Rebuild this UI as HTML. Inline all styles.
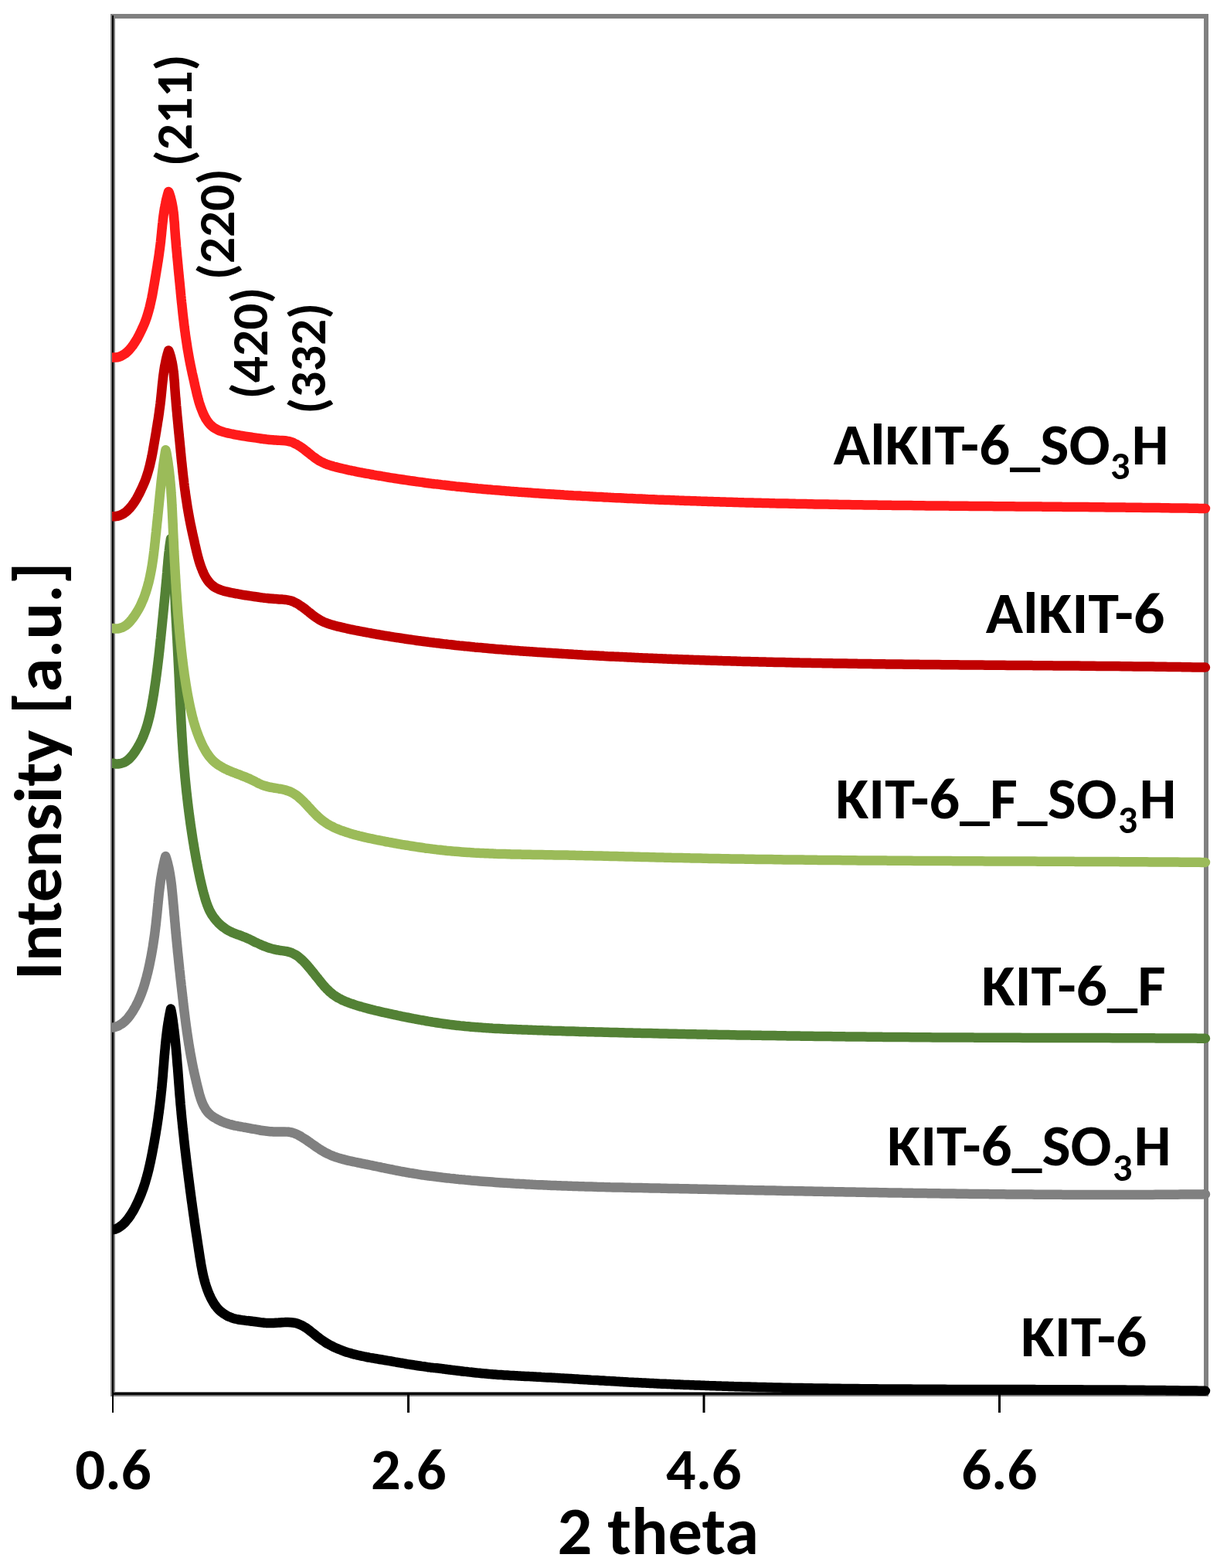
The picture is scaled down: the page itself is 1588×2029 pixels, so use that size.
<!DOCTYPE html>
<html><head><meta charset="utf-8"><title>XRD patterns</title>
<style>html,body{margin:0;padding:0;background:#fff;}svg{display:block;}</style></head>
<body>
<svg width="1588" height="2029" viewBox="0 0 1588 2029" font-family="Carlito, 'Liberation Sans', 'DejaVu Sans', sans-serif" font-weight="bold" fill="#000" style="font-size-adjust:cap-height 0.6484">
<rect width="1588" height="2029" fill="#fff"/>
<rect x="146" y="21" width="1415" height="1783" fill="none" stroke="#808080" stroke-width="6"/>
<rect x="145" y="20" width="2" height="1808" fill="#000"/>
<rect x="145" y="1802" width="1419" height="3" fill="#000"/>
<rect x="527" y="1802" width="3" height="26" fill="#000"/>
<rect x="909.5" y="1802" width="3" height="26" fill="#000"/>
<rect x="1292" y="1802" width="3" height="26" fill="#000"/>
<clipPath id="pc"><rect x="145" y="0" width="1443" height="2029"/></clipPath>
<g clip-path="url(#pc)" fill="none" stroke-width="12.5" stroke-linejoin="round" stroke-linecap="round">
<path d="M146.06,1591.17C146.7,1591.0 148.8,1590.6 150.0,1590.2C151.3,1589.7 152.5,1589.2 153.6,1588.5C154.7,1587.8 155.8,1587.1 156.9,1586.2C157.9,1585.4 158.9,1584.5 159.9,1583.6C160.9,1582.7 161.8,1581.7 162.7,1580.7C163.6,1579.7 164.4,1578.6 165.3,1577.6C166.1,1576.5 166.9,1575.4 167.7,1574.3C168.5,1573.2 169.2,1572.0 169.9,1570.9C170.7,1569.7 171.4,1568.5 172.1,1567.4C172.7,1566.2 173.4,1565.0 174.1,1563.8C174.7,1562.6 175.3,1561.4 175.9,1560.2C176.6,1559.0 177.2,1557.8 177.7,1556.5C178.3,1555.3 178.9,1554.1 179.4,1552.9C180.0,1551.6 180.5,1550.4 181.0,1549.1C181.6,1547.9 182.1,1546.6 182.6,1545.4C183.1,1544.1 183.5,1542.9 184.0,1541.6C184.5,1540.3 184.9,1539.1 185.4,1537.8C185.8,1536.5 186.2,1535.2 186.7,1534.0C187.1,1532.7 187.5,1531.4 187.9,1530.1C188.3,1528.8 188.7,1527.5 189.0,1526.2C189.4,1524.9 189.8,1523.6 190.1,1522.3C190.5,1521.0 190.8,1519.7 191.2,1518.4C191.5,1517.1 191.8,1515.8 192.2,1514.5C192.5,1513.1 192.8,1511.8 193.1,1510.5C193.4,1509.2 193.7,1507.9 194.0,1506.5C194.3,1505.2 194.6,1503.9 194.9,1502.6C195.1,1501.2 195.4,1499.9 195.7,1498.6C196.0,1497.3 196.2,1495.9 196.5,1494.6C196.8,1493.3 197.0,1491.9 197.3,1490.6C197.5,1489.3 197.8,1487.9 198.0,1486.6C198.3,1485.3 198.5,1483.9 198.8,1482.6C199.0,1481.3 199.3,1479.9 199.5,1478.6C199.8,1477.3 200.0,1475.9 200.2,1474.6C200.5,1473.3 200.7,1471.9 200.9,1470.6C201.1,1469.3 201.4,1467.9 201.6,1466.6C201.8,1465.3 202.0,1463.9 202.2,1462.6C202.4,1461.3 202.7,1459.9 202.9,1458.6C203.1,1457.3 203.3,1455.9 203.5,1454.6C203.7,1453.2 203.9,1451.9 204.1,1450.6C204.3,1449.2 204.5,1447.9 204.7,1446.6C204.8,1445.2 205.0,1443.9 205.2,1442.5C205.4,1441.2 205.6,1439.9 205.8,1438.5C205.9,1437.2 206.1,1435.8 206.3,1434.5C206.5,1433.2 206.6,1431.8 206.8,1430.5C207.0,1429.1 207.1,1427.8 207.3,1426.4C207.4,1425.1 207.6,1423.8 207.8,1422.4C207.9,1421.1 208.1,1419.7 208.2,1418.4C208.4,1417.0 208.5,1415.7 208.6,1414.3C208.8,1413.0 208.9,1411.7 209.1,1410.3C209.2,1409.0 209.3,1407.6 209.5,1406.3C209.6,1404.9 209.7,1403.6 209.8,1402.2C210.0,1400.9 210.1,1399.5 210.2,1398.2C210.3,1396.8 210.4,1395.5 210.6,1394.1C210.7,1392.8 210.8,1391.4 210.9,1390.1C211.0,1388.7 211.1,1387.4 211.2,1386.0C211.3,1384.7 211.4,1383.3 211.5,1382.0C211.7,1380.6 211.8,1379.3 211.9,1377.9C212.0,1376.6 212.1,1375.2 212.2,1373.9C212.3,1372.5 212.4,1371.2 212.5,1369.8C212.6,1368.5 212.7,1367.1 212.8,1365.8C213.0,1364.4 213.1,1363.1 213.2,1361.8C213.3,1360.4 213.4,1359.1 213.6,1357.7C213.7,1356.4 213.8,1355.0 213.9,1353.7C214.1,1352.3 214.2,1351.0 214.3,1349.6C214.5,1348.3 214.6,1346.9 214.7,1345.6C214.9,1344.2 215.0,1342.9 215.2,1341.6C215.3,1340.2 215.5,1338.9 215.7,1337.5C215.8,1336.2 216.0,1334.8 216.2,1333.5C216.4,1332.2 216.5,1330.8 216.7,1329.5C216.9,1328.1 217.1,1326.8 217.3,1325.5C217.5,1324.1 217.7,1322.8 218.0,1321.5C218.2,1320.1 218.4,1318.8 218.6,1317.5C218.9,1316.1 219.1,1314.8 219.4,1313.5C219.6,1312.1 219.9,1310.8 220.2,1309.5C220.4,1308.1 220.9,1306.2 221.0,1305.5C221.4,1306.1 221.7,1308.1 221.9,1309.4C222.1,1310.7 222.4,1312.1 222.6,1313.4C222.8,1314.7 223.0,1316.0 223.2,1317.3C223.4,1318.7 223.6,1320.0 223.8,1321.3C223.9,1322.6 224.1,1324.0 224.3,1325.3C224.5,1326.6 224.7,1327.9 224.8,1329.3C225.0,1330.6 225.2,1331.9 225.3,1333.3C225.5,1334.6 225.6,1335.9 225.8,1337.2C226.0,1338.6 226.1,1339.9 226.3,1341.2C226.4,1342.6 226.5,1343.9 226.7,1345.2C226.8,1346.6 227.0,1347.9 227.1,1349.2C227.2,1350.5 227.4,1351.9 227.5,1353.2C227.6,1354.5 227.7,1355.9 227.9,1357.2C228.0,1358.5 228.1,1359.9 228.2,1361.2C228.3,1362.5 228.4,1363.9 228.6,1365.2C228.7,1366.5 228.8,1367.9 228.9,1369.2C229.0,1370.5 229.1,1371.9 229.2,1373.2C229.3,1374.5 229.4,1375.9 229.5,1377.2C229.6,1378.5 229.8,1379.9 229.9,1381.2C230.0,1382.6 230.1,1383.9 230.2,1385.2C230.3,1386.6 230.4,1387.9 230.5,1389.2C230.6,1390.6 230.7,1391.9 230.8,1393.2C230.9,1394.6 231.0,1395.9 231.1,1397.2C231.2,1398.6 231.3,1399.9 231.4,1401.2C231.5,1402.6 231.6,1403.9 231.7,1405.3C231.8,1406.6 231.9,1407.9 232.0,1409.3C232.1,1410.6 232.2,1411.9 232.3,1413.3C232.4,1414.6 232.5,1415.9 232.6,1417.3C232.7,1418.6 232.8,1419.9 233.0,1421.3C233.1,1422.6 233.2,1423.9 233.3,1425.3C233.4,1426.6 233.5,1427.9 233.6,1429.3C233.8,1430.6 233.9,1431.9 234.0,1433.3C234.1,1434.6 234.2,1435.9 234.4,1437.3C234.5,1438.6 234.6,1439.9 234.7,1441.3C234.9,1442.6 235.0,1443.9 235.1,1445.3C235.2,1446.6 235.4,1447.9 235.5,1449.3C235.6,1450.6 235.8,1451.9 235.9,1453.3C236.0,1454.6 236.2,1455.9 236.3,1457.3C236.4,1458.6 236.6,1459.9 236.7,1461.2C236.9,1462.6 237.0,1463.9 237.1,1465.2C237.3,1466.6 237.4,1467.9 237.6,1469.2C237.7,1470.6 237.9,1471.9 238.0,1473.2C238.1,1474.6 238.3,1475.9 238.4,1477.2C238.6,1478.5 238.7,1479.9 238.9,1481.2C239.0,1482.5 239.2,1483.9 239.3,1485.2C239.5,1486.5 239.6,1487.9 239.8,1489.2C239.9,1490.5 240.1,1491.8 240.3,1493.2C240.4,1494.5 240.6,1495.8 240.7,1497.2C240.9,1498.5 241.0,1499.8 241.2,1501.2C241.4,1502.5 241.5,1503.8 241.7,1505.1C241.8,1506.5 242.0,1507.8 242.2,1509.1C242.3,1510.5 242.5,1511.8 242.7,1513.1C242.8,1514.4 243.0,1515.8 243.2,1517.1C243.3,1518.4 243.5,1519.8 243.7,1521.1C243.8,1522.4 244.0,1523.7 244.2,1525.1C244.3,1526.4 244.5,1527.7 244.7,1529.0C244.9,1530.4 245.0,1531.7 245.2,1533.0C245.4,1534.4 245.5,1535.7 245.7,1537.0C245.9,1538.3 246.1,1539.7 246.2,1541.0C246.4,1542.3 246.6,1543.6 246.8,1545.0C246.9,1546.3 247.1,1547.6 247.3,1549.0C247.5,1550.3 247.7,1551.6 247.8,1552.9C248.0,1554.3 248.2,1555.6 248.4,1556.9C248.6,1558.2 248.8,1559.6 248.9,1560.9C249.1,1562.2 249.3,1563.5 249.5,1564.9C249.7,1566.2 249.9,1567.5 250.0,1568.8C250.2,1570.2 250.4,1571.5 250.6,1572.8C250.8,1574.2 251.0,1575.5 251.2,1576.8C251.4,1578.1 251.6,1579.5 251.7,1580.8C251.9,1582.1 252.1,1583.4 252.3,1584.8C252.5,1586.1 252.7,1587.4 252.9,1588.7C253.1,1590.1 253.3,1591.4 253.5,1592.7C253.7,1594.0 253.9,1595.3 254.1,1596.7C254.3,1598.0 254.5,1599.3 254.7,1600.6C254.9,1602.0 255.1,1603.3 255.3,1604.6C255.5,1605.9 255.7,1607.3 255.9,1608.6C256.1,1609.9 256.3,1611.2 256.5,1612.6C256.7,1613.9 256.9,1615.2 257.1,1616.5C257.3,1617.9 257.5,1619.2 257.7,1620.5C257.9,1621.8 258.1,1623.1 258.3,1624.5C258.5,1625.8 258.7,1627.1 258.9,1628.4C259.2,1629.8 259.4,1631.1 259.6,1632.4C259.8,1633.7 260.0,1635.0 260.2,1636.4C260.5,1637.7 260.7,1639.0 261.0,1640.3C261.2,1641.6 261.4,1642.9 261.7,1644.3C262.0,1645.6 262.2,1646.9 262.5,1648.2C262.8,1649.5 263.1,1650.8 263.4,1652.1C263.7,1653.4 264.0,1654.7 264.4,1656.0C264.7,1657.3 265.1,1658.6 265.4,1659.8C265.8,1661.1 266.2,1662.4 266.6,1663.7C267.0,1664.9 267.4,1666.2 267.9,1667.5C268.3,1668.7 268.8,1670.0 269.3,1671.3C269.8,1672.5 270.3,1673.8 270.8,1675.0C271.4,1676.2 272.0,1677.5 272.5,1678.7C273.1,1679.9 273.7,1681.1 274.4,1682.3C275.0,1683.5 275.7,1684.7 276.4,1685.8C277.1,1687.0 277.8,1688.1 278.6,1689.2C279.4,1690.3 280.2,1691.3 281.0,1692.4C281.9,1693.4 282.8,1694.4 283.8,1695.3C284.7,1696.2 285.7,1697.1 286.8,1697.9C287.8,1698.8 288.9,1699.5 290.0,1700.3C291.1,1701.0 292.2,1701.7 293.4,1702.3C294.6,1703.0 295.8,1703.6 297.0,1704.1C298.2,1704.6 299.5,1705.1 300.7,1705.5C302.0,1706.0 303.3,1706.3 304.6,1706.6C305.9,1707.0 307.2,1707.2 308.5,1707.5C309.8,1707.7 311.2,1707.9 312.5,1708.1C313.8,1708.3 315.2,1708.5 316.5,1708.6C317.9,1708.8 319.2,1708.9 320.5,1709.1C321.9,1709.2 323.2,1709.4 324.6,1709.5C325.9,1709.7 327.3,1709.8 328.6,1710.0C329.9,1710.2 331.3,1710.4 332.6,1710.6C333.9,1710.7 335.2,1710.9 336.6,1711.1C337.9,1711.3 339.2,1711.4 340.5,1711.5C341.8,1711.7 343.2,1711.8 344.5,1711.9C345.8,1711.9 347.1,1712.0 348.5,1712.0C349.8,1712.0 351.1,1712.0 352.5,1712.0C353.8,1711.9 355.1,1711.9 356.5,1711.8C357.8,1711.7 359.2,1711.6 360.5,1711.6C361.9,1711.5 363.2,1711.4 364.6,1711.3C365.9,1711.2 367.3,1711.1 368.6,1711.1C370.0,1711.0 371.4,1711.0 372.7,1711.0C374.0,1711.0 375.4,1711.1 376.7,1711.2C378.0,1711.3 379.3,1711.4 380.6,1711.6C381.9,1711.9 383.2,1712.1 384.4,1712.5C385.7,1712.9 386.9,1713.4 388.1,1713.9C389.3,1714.4 390.5,1715.0 391.7,1715.6C392.9,1716.3 394.0,1717.0 395.1,1717.7C396.3,1718.4 397.4,1719.2 398.5,1720.0C399.6,1720.8 400.7,1721.6 401.7,1722.5C402.8,1723.3 403.8,1724.1 404.9,1725.0C406.0,1725.8 407.0,1726.7 408.0,1727.5C409.1,1728.4 410.1,1729.2 411.2,1730.1C412.3,1730.9 413.3,1731.7 414.4,1732.5C415.5,1733.3 416.6,1734.1 417.7,1734.8C418.8,1735.6 419.9,1736.3 421.0,1737.0C422.2,1737.7 423.3,1738.4 424.5,1739.1C425.6,1739.8 426.8,1740.4 428.0,1741.0C429.2,1741.6 430.4,1742.2 431.6,1742.8C432.8,1743.4 434.0,1744.0 435.2,1744.5C436.4,1745.0 437.7,1745.6 438.9,1746.1C440.1,1746.6 441.4,1747.1 442.6,1747.5C443.9,1748.0 445.2,1748.4 446.4,1748.9C447.7,1749.3 449.0,1749.7 450.2,1750.1C451.5,1750.5 452.8,1750.9 454.1,1751.2C455.4,1751.6 456.6,1752.0 457.9,1752.3C459.2,1752.6 460.5,1753.0 461.8,1753.3C463.1,1753.6 464.4,1753.9 465.7,1754.2C467.0,1754.5 468.4,1754.7 469.7,1755.0C471.0,1755.3 472.3,1755.6 473.6,1755.8C474.9,1756.1 476.2,1756.3 477.6,1756.6C478.9,1756.8 480.2,1757.0 481.5,1757.3C482.9,1757.5 484.2,1757.7 485.5,1758.0C486.8,1758.2 488.2,1758.4 489.5,1758.6C490.8,1758.9 492.1,1759.1 493.5,1759.3C494.8,1759.5 496.1,1759.7 497.4,1760.0C498.8,1760.2 500.1,1760.4 501.4,1760.6C502.7,1760.8 504.0,1761.1 505.4,1761.3C506.7,1761.5 508.0,1761.8 509.3,1762.0C510.6,1762.2 512.0,1762.4 513.3,1762.7C514.6,1762.9 515.9,1763.1 517.2,1763.4C518.5,1763.6 519.8,1763.8 521.2,1764.0C522.5,1764.3 523.8,1764.5 525.1,1764.7C526.4,1764.9 527.7,1765.2 529.1,1765.4C530.4,1765.6 531.7,1765.8 533.0,1766.0C534.3,1766.2 535.7,1766.4 537.0,1766.6C538.3,1766.8 539.6,1767.0 540.9,1767.2C542.3,1767.4 543.6,1767.6 544.9,1767.8C546.2,1768.0 547.6,1768.2 548.9,1768.3C550.2,1768.5 551.6,1768.7 552.9,1768.9C554.2,1769.0 555.5,1769.2 556.9,1769.4C558.2,1769.5 559.5,1769.7 560.9,1769.9C562.2,1770.0 563.5,1770.2 564.9,1770.3C566.2,1770.5 567.5,1770.7 568.9,1770.8C570.2,1771.0 571.5,1771.2 572.9,1771.3C574.2,1771.5 575.5,1771.6 576.8,1771.8C578.2,1772.0 579.5,1772.1 580.8,1772.3C582.2,1772.5 583.5,1772.6 584.8,1772.8C586.1,1772.9 587.5,1773.1 588.8,1773.3C590.1,1773.4 591.5,1773.6 592.8,1773.7C594.1,1773.9 595.4,1774.1 596.8,1774.2C598.1,1774.4 599.4,1774.5 600.8,1774.7C602.1,1774.8 603.4,1775.0 604.8,1775.1C606.1,1775.3 607.4,1775.4 608.7,1775.6C610.1,1775.7 611.4,1775.9 612.7,1776.0C614.1,1776.2 615.4,1776.3 616.7,1776.4C618.0,1776.6 619.4,1776.7 620.7,1776.8C622.0,1777.0 623.4,1777.1 624.7,1777.2C626.0,1777.3 627.4,1777.5 628.7,1777.6C630.0,1777.7 631.4,1777.8 632.7,1777.9C634.0,1778.0 635.4,1778.2 636.7,1778.3C638.0,1778.4 639.4,1778.5 640.7,1778.6C642.0,1778.7 643.4,1778.8 644.7,1778.9C646.0,1779.0 647.4,1779.0 648.7,1779.1C650.1,1779.2 651.4,1779.3 652.7,1779.4C654.1,1779.5 655.4,1779.6 656.7,1779.6C658.1,1779.7 659.4,1779.8 660.8,1779.9C662.1,1780.0 663.4,1780.0 664.8,1780.1C666.1,1780.2 667.4,1780.3 668.8,1780.3C670.1,1780.4 671.5,1780.5 672.8,1780.5C674.1,1780.6 675.5,1780.7 676.8,1780.7C678.2,1780.8 679.5,1780.9 680.8,1780.9C682.2,1781.0 683.5,1781.1 684.8,1781.1C686.2,1781.2 687.5,1781.3 688.9,1781.3C690.2,1781.4 691.5,1781.5 692.9,1781.5C694.2,1781.6 695.6,1781.7 696.9,1781.7C698.2,1781.8 699.6,1781.9 700.9,1782.0C702.3,1782.0 703.6,1782.1 704.9,1782.2C706.3,1782.2 707.6,1782.3 708.9,1782.4C710.3,1782.4 711.6,1782.5 713.0,1782.6C714.3,1782.7 715.6,1782.7 717.0,1782.8C718.3,1782.9 719.6,1783.0 721.0,1783.0C722.3,1783.1 723.7,1783.2 725.0,1783.3C726.3,1783.3 727.7,1783.4 729.0,1783.5C730.3,1783.6 731.7,1783.7 733.0,1783.7C734.4,1783.8 735.7,1783.9 737.0,1784.0C738.4,1784.1 739.7,1784.1 741.0,1784.2C742.4,1784.3 743.7,1784.4 745.0,1784.4C746.4,1784.5 747.7,1784.6 749.1,1784.7C750.4,1784.8 751.7,1784.9 753.1,1784.9C754.4,1785.0 755.7,1785.1 757.1,1785.2C758.4,1785.3 759.7,1785.3 761.1,1785.4C762.4,1785.5 763.7,1785.6 765.1,1785.7C766.4,1785.7 767.8,1785.8 769.1,1785.9C770.4,1786.0 771.8,1786.1 773.1,1786.1C774.4,1786.2 775.8,1786.3 777.1,1786.4C778.4,1786.5 779.8,1786.5 781.1,1786.6C782.4,1786.7 783.8,1786.8 785.1,1786.9C786.5,1786.9 787.8,1787.0 789.1,1787.1C790.5,1787.2 791.8,1787.3 793.1,1787.3C794.5,1787.4 795.8,1787.5 797.1,1787.6C798.5,1787.6 799.8,1787.7 801.1,1787.8C802.5,1787.9 803.8,1787.9 805.1,1788.0C806.5,1788.1 807.8,1788.2 809.2,1788.2C810.5,1788.3 811.8,1788.4 813.2,1788.5C814.5,1788.5 815.8,1788.6 817.2,1788.7C818.5,1788.8 819.8,1788.8 821.2,1788.9C822.5,1789.0 823.9,1789.0 825.2,1789.1C826.5,1789.2 827.9,1789.2 829.2,1789.3C830.5,1789.4 831.9,1789.4 833.2,1789.5C834.5,1789.6 835.9,1789.6 837.2,1789.7C838.5,1789.8 839.9,1789.8 841.2,1789.9C842.6,1790.0 843.9,1790.0 845.2,1790.1C846.6,1790.2 847.9,1790.2 849.2,1790.3C850.6,1790.4 851.9,1790.4 853.2,1790.5C854.6,1790.5 855.9,1790.6 857.3,1790.7C858.6,1790.7 859.9,1790.8 861.3,1790.8C862.6,1790.9 863.9,1791.0 865.3,1791.0C866.6,1791.1 868.0,1791.1 869.3,1791.2C870.6,1791.3 872.0,1791.3 873.3,1791.4C874.6,1791.4 876.0,1791.5 877.3,1791.5C878.6,1791.6 880.0,1791.6 881.3,1791.7C882.7,1791.8 884.0,1791.8 885.3,1791.9C886.7,1791.9 888.0,1792.0 889.3,1792.0C890.7,1792.1 892.0,1792.1 893.4,1792.2C894.7,1792.2 896.0,1792.3 897.4,1792.3C898.7,1792.4 900.0,1792.4 901.4,1792.5C902.7,1792.5 904.0,1792.6 905.4,1792.6C906.7,1792.7 908.1,1792.7 909.4,1792.8C910.7,1792.8 912.1,1792.9 913.4,1792.9C914.7,1793.0 916.1,1793.0 917.4,1793.1C918.8,1793.1 920.1,1793.2 921.4,1793.2C922.8,1793.2 924.1,1793.3 925.4,1793.3C926.8,1793.4 928.1,1793.4 929.5,1793.5C930.8,1793.5 932.1,1793.5 933.5,1793.6C934.8,1793.6 936.1,1793.7 937.5,1793.7C938.8,1793.8 940.2,1793.8 941.5,1793.8C942.8,1793.9 944.2,1793.9 945.5,1794.0C946.8,1794.0 948.2,1794.0 949.5,1794.1C950.9,1794.1 952.2,1794.2 953.5,1794.2C954.9,1794.2 956.2,1794.3 957.5,1794.3C958.9,1794.4 960.2,1794.4 961.6,1794.4C962.9,1794.5 964.2,1794.5 965.6,1794.5C966.9,1794.6 968.3,1794.6 969.6,1794.6C970.9,1794.7 972.3,1794.7 973.6,1794.7C974.9,1794.8 976.3,1794.8 977.6,1794.8C979.0,1794.9 980.3,1794.9 981.6,1794.9C983.0,1795.0 984.3,1795.0 985.6,1795.0C987.0,1795.1 988.3,1795.1 989.7,1795.1C991.0,1795.2 992.3,1795.2 993.7,1795.2C995.0,1795.3 996.4,1795.3 997.7,1795.3C999.0,1795.4 1000.4,1795.4 1001.7,1795.4C1003.0,1795.4 1004.4,1795.5 1005.7,1795.5C1007.1,1795.5 1008.4,1795.6 1009.7,1795.6C1011.1,1795.6 1012.4,1795.6 1013.7,1795.7C1015.1,1795.7 1016.4,1795.7 1017.8,1795.8C1019.1,1795.8 1020.4,1795.8 1021.8,1795.8C1023.1,1795.9 1024.5,1795.9 1025.8,1795.9C1027.1,1795.9 1028.5,1796.0 1029.8,1796.0C1031.1,1796.0 1032.5,1796.0 1033.8,1796.1C1035.2,1796.1 1036.5,1796.1 1037.8,1796.1C1039.2,1796.2 1040.5,1796.2 1041.9,1796.2C1043.2,1796.2 1044.5,1796.2 1045.9,1796.3C1047.2,1796.3 1048.6,1796.3 1049.9,1796.3C1051.2,1796.4 1052.6,1796.4 1053.9,1796.4C1055.2,1796.4 1056.6,1796.4 1057.9,1796.5C1059.3,1796.5 1060.6,1796.5 1061.9,1796.5C1063.3,1796.5 1064.6,1796.6 1066.0,1796.6C1067.3,1796.6 1068.6,1796.6 1070.0,1796.6C1071.3,1796.7 1072.6,1796.7 1074.0,1796.7C1075.3,1796.7 1076.7,1796.7 1078.0,1796.7C1079.3,1796.8 1080.7,1796.8 1082.0,1796.8C1083.4,1796.8 1084.7,1796.8 1086.0,1796.8C1087.4,1796.9 1088.7,1796.9 1090.1,1796.9C1091.4,1796.9 1092.7,1796.9 1094.1,1796.9C1095.4,1797.0 1096.7,1797.0 1098.1,1797.0C1099.4,1797.0 1100.8,1797.0 1102.1,1797.0C1103.4,1797.0 1104.8,1797.1 1106.1,1797.1C1107.5,1797.1 1108.8,1797.1 1110.1,1797.1C1111.5,1797.1 1112.8,1797.1 1114.2,1797.2C1115.5,1797.2 1116.8,1797.2 1118.2,1797.2C1119.5,1797.2 1120.9,1797.2 1122.2,1797.2C1123.5,1797.2 1124.9,1797.3 1126.2,1797.3C1127.5,1797.3 1128.9,1797.3 1130.2,1797.3C1131.6,1797.3 1132.9,1797.3 1134.2,1797.3C1135.6,1797.4 1136.9,1797.4 1138.3,1797.4C1139.6,1797.4 1140.9,1797.4 1142.3,1797.4C1143.6,1797.4 1145.0,1797.4 1146.3,1797.4C1147.6,1797.4 1149.0,1797.5 1150.3,1797.5C1151.7,1797.5 1153.0,1797.5 1154.3,1797.5C1155.7,1797.5 1157.0,1797.5 1158.3,1797.5C1159.7,1797.5 1161.0,1797.5 1162.4,1797.6C1163.7,1797.6 1165.0,1797.6 1166.4,1797.6C1167.7,1797.6 1169.1,1797.6 1170.4,1797.6C1171.7,1797.6 1173.1,1797.6 1174.4,1797.6C1175.8,1797.6 1177.1,1797.6 1178.4,1797.6C1179.8,1797.7 1181.1,1797.7 1182.5,1797.7C1183.8,1797.7 1185.1,1797.7 1186.5,1797.7C1187.8,1797.7 1189.2,1797.7 1190.5,1797.7C1191.8,1797.7 1193.2,1797.7 1194.5,1797.7C1195.8,1797.7 1197.2,1797.7 1198.5,1797.8C1199.9,1797.8 1201.2,1797.8 1202.5,1797.8C1203.9,1797.8 1205.2,1797.8 1206.6,1797.8C1207.9,1797.8 1209.2,1797.8 1210.6,1797.8C1211.9,1797.8 1213.3,1797.8 1214.6,1797.8C1215.9,1797.8 1217.3,1797.8 1218.6,1797.8C1220.0,1797.8 1221.3,1797.8 1222.6,1797.8C1224.0,1797.9 1225.3,1797.9 1226.7,1797.9C1228.0,1797.9 1229.3,1797.9 1230.7,1797.9C1232.0,1797.9 1233.3,1797.9 1234.7,1797.9C1236.0,1797.9 1237.4,1797.9 1238.7,1797.9C1240.0,1797.9 1241.4,1797.9 1242.7,1797.9C1244.1,1797.9 1245.4,1797.9 1246.7,1797.9C1248.1,1797.9 1249.4,1797.9 1250.8,1797.9C1252.1,1797.9 1253.4,1797.9 1254.8,1797.9C1256.1,1798.0 1257.5,1798.0 1258.8,1798.0C1260.1,1798.0 1261.5,1798.0 1262.8,1798.0C1264.2,1798.0 1265.5,1798.0 1266.8,1798.0C1268.2,1798.0 1269.5,1798.0 1270.8,1798.0C1272.2,1798.0 1273.5,1798.0 1274.9,1798.0C1276.2,1798.0 1277.5,1798.0 1278.9,1798.0C1280.2,1798.0 1281.6,1798.0 1282.9,1798.0C1284.2,1798.0 1285.6,1798.0 1286.9,1798.0C1288.3,1798.0 1289.6,1798.0 1290.9,1798.0C1292.3,1798.0 1293.6,1798.0 1295.0,1798.0C1296.3,1798.0 1297.6,1798.1 1299.0,1798.1C1300.3,1798.1 1301.7,1798.1 1303.0,1798.1C1304.3,1798.1 1305.7,1798.1 1307.0,1798.1C1308.3,1798.1 1309.7,1798.1 1311.0,1798.1C1312.4,1798.1 1313.7,1798.1 1315.0,1798.1C1316.4,1798.1 1317.7,1798.1 1319.1,1798.1C1320.4,1798.1 1321.7,1798.1 1323.1,1798.1C1324.4,1798.1 1325.8,1798.1 1327.1,1798.1C1328.4,1798.1 1329.8,1798.1 1331.1,1798.1C1332.5,1798.1 1333.8,1798.1 1335.1,1798.1C1336.5,1798.1 1337.8,1798.1 1339.1,1798.1C1340.5,1798.1 1341.8,1798.2 1343.2,1798.2C1344.5,1798.2 1345.8,1798.2 1347.2,1798.2C1348.5,1798.2 1349.9,1798.2 1351.2,1798.2C1352.5,1798.2 1353.9,1798.2 1355.2,1798.2C1356.6,1798.2 1357.9,1798.2 1359.2,1798.2C1360.6,1798.2 1361.9,1798.2 1363.3,1798.2C1364.6,1798.2 1365.9,1798.2 1367.3,1798.2C1368.6,1798.2 1369.9,1798.2 1371.3,1798.2C1372.6,1798.2 1374.0,1798.2 1375.3,1798.2C1376.6,1798.3 1378.0,1798.3 1379.3,1798.3C1380.7,1798.3 1382.0,1798.3 1383.3,1798.3C1384.7,1798.3 1386.0,1798.3 1387.4,1798.3C1388.7,1798.3 1390.0,1798.3 1391.4,1798.3C1392.7,1798.3 1394.0,1798.3 1395.4,1798.3C1396.7,1798.3 1398.1,1798.3 1399.4,1798.3C1400.7,1798.3 1402.1,1798.3 1403.4,1798.4C1404.8,1798.4 1406.1,1798.4 1407.4,1798.4C1408.8,1798.4 1410.1,1798.4 1411.4,1798.4C1412.8,1798.4 1414.1,1798.4 1415.5,1798.4C1416.8,1798.4 1418.1,1798.4 1419.5,1798.4C1420.8,1798.4 1422.2,1798.4 1423.5,1798.4C1424.8,1798.5 1426.2,1798.5 1427.5,1798.5C1428.9,1798.5 1430.2,1798.5 1431.5,1798.5C1432.9,1798.5 1434.2,1798.5 1435.5,1798.5C1436.9,1798.5 1438.2,1798.5 1439.6,1798.5C1440.9,1798.5 1442.2,1798.6 1443.6,1798.6C1444.9,1798.6 1446.3,1798.6 1447.6,1798.6C1448.9,1798.6 1450.3,1798.6 1451.6,1798.6C1452.9,1798.6 1454.3,1798.6 1455.6,1798.6C1457.0,1798.7 1458.3,1798.7 1459.6,1798.7C1461.0,1798.7 1462.3,1798.7 1463.7,1798.7C1465.0,1798.7 1466.3,1798.7 1467.7,1798.7C1469.0,1798.7 1470.3,1798.8 1471.7,1798.8C1473.0,1798.8 1474.4,1798.8 1475.7,1798.8C1477.0,1798.8 1478.4,1798.8 1479.7,1798.8C1481.0,1798.9 1482.4,1798.9 1483.7,1798.9C1485.1,1798.9 1486.4,1798.9 1487.7,1798.9C1489.1,1798.9 1490.4,1798.9 1491.8,1799.0C1493.1,1799.0 1494.4,1799.0 1495.8,1799.0C1497.1,1799.0 1498.4,1799.0 1499.8,1799.0C1501.1,1799.0 1502.5,1799.1 1503.8,1799.1C1505.1,1799.1 1506.5,1799.1 1507.8,1799.1C1509.1,1799.1 1510.5,1799.2 1511.8,1799.2C1513.2,1799.2 1514.5,1799.2 1515.8,1799.2C1517.2,1799.2 1518.5,1799.2 1519.8,1799.3C1521.2,1799.3 1522.5,1799.3 1523.9,1799.3C1525.2,1799.3 1526.5,1799.3 1527.9,1799.4C1529.2,1799.4 1530.5,1799.4 1531.9,1799.4C1533.2,1799.4 1534.6,1799.5 1535.9,1799.5C1537.2,1799.5 1538.6,1799.5 1539.9,1799.5C1541.2,1799.5 1542.6,1799.6 1543.9,1799.6C1545.3,1799.6 1546.6,1799.6 1547.9,1799.6C1549.3,1799.7 1550.6,1799.7 1551.9,1799.7C1553.3,1799.7 1554.6,1799.7 1556.0,1799.8C1557.3,1799.8 1559.3,1799.8 1560.0,1799.8" stroke="#000000"/>
<path d="M146.03,1329.58C146.7,1329.4 148.8,1329.0 150.1,1328.6C151.4,1328.2 152.6,1327.7 153.8,1327.1C155.0,1326.5 156.1,1325.8 157.2,1325.1C158.3,1324.3 159.4,1323.5 160.4,1322.6C161.4,1321.7 162.4,1320.8 163.3,1319.8C164.3,1318.8 165.2,1317.8 166.0,1316.8C166.9,1315.7 167.7,1314.6 168.5,1313.5C169.3,1312.4 170.1,1311.3 170.9,1310.1C171.6,1309.0 172.3,1307.8 173.0,1306.6C173.7,1305.4 174.4,1304.3 175.1,1303.1C175.7,1301.9 176.4,1300.7 177.0,1299.4C177.6,1298.2 178.2,1297.0 178.8,1295.8C179.3,1294.5 179.9,1293.3 180.4,1292.1C181.0,1290.8 181.5,1289.6 182.0,1288.3C182.5,1287.0 183.0,1285.8 183.5,1284.5C183.9,1283.2 184.4,1281.9 184.8,1280.6C185.3,1279.4 185.7,1278.1 186.1,1276.8C186.5,1275.5 186.9,1274.2 187.3,1272.9C187.7,1271.6 188.1,1270.3 188.4,1268.9C188.8,1267.6 189.1,1266.3 189.5,1265.0C189.8,1263.7 190.2,1262.4 190.5,1261.0C190.8,1259.7 191.2,1258.4 191.5,1257.1C191.8,1255.7 192.1,1254.4 192.4,1253.1C192.7,1251.8 193.0,1250.4 193.3,1249.1C193.6,1247.8 193.8,1246.4 194.1,1245.1C194.4,1243.8 194.6,1242.4 194.9,1241.1C195.2,1239.8 195.4,1238.4 195.7,1237.1C195.9,1235.8 196.2,1234.4 196.4,1233.1C196.6,1231.8 196.9,1230.4 197.1,1229.1C197.3,1227.7 197.6,1226.4 197.8,1225.1C198.0,1223.7 198.2,1222.4 198.4,1221.0C198.6,1219.7 198.8,1218.3 199.0,1217.0C199.2,1215.7 199.4,1214.3 199.6,1213.0C199.8,1211.6 200.0,1210.3 200.2,1208.9C200.3,1207.6 200.5,1206.2 200.7,1204.9C200.8,1203.5 201.0,1202.2 201.2,1200.8C201.3,1199.5 201.5,1198.1 201.7,1196.8C201.8,1195.4 202.0,1194.1 202.1,1192.7C202.3,1191.4 202.4,1190.0 202.5,1188.6C202.7,1187.3 202.8,1185.9 203.0,1184.6C203.1,1183.2 203.2,1181.9 203.4,1180.5C203.5,1179.2 203.6,1177.8 203.8,1176.5C203.9,1175.1 204.0,1173.7 204.2,1172.4C204.3,1171.0 204.4,1169.7 204.6,1168.3C204.7,1167.0 204.8,1165.6 205.0,1164.3C205.1,1162.9 205.2,1161.5 205.4,1160.2C205.5,1158.8 205.7,1157.5 205.8,1156.1C206.0,1154.8 206.1,1153.4 206.3,1152.1C206.4,1150.7 206.6,1149.4 206.8,1148.0C206.9,1146.7 207.1,1145.3 207.3,1144.0C207.5,1142.6 207.7,1141.3 207.8,1139.9C208.0,1138.6 208.2,1137.3 208.4,1135.9C208.7,1134.6 208.9,1133.2 209.1,1131.9C209.3,1130.5 209.6,1129.2 209.8,1127.9C210.0,1126.5 210.3,1125.2 210.6,1123.9C210.8,1122.5 211.1,1121.2 211.4,1119.9C211.7,1118.5 212.0,1117.2 212.3,1115.9C212.6,1114.6 212.9,1113.2 213.2,1111.9C213.6,1110.6 214.1,1108.6 214.3,1108.0C214.5,1108.6 215.2,1110.6 215.6,1111.9C215.9,1113.1 216.3,1114.4 216.6,1115.7C217.0,1117.0 217.3,1118.3 217.6,1119.6C217.9,1120.9 218.2,1122.2 218.5,1123.5C218.8,1124.8 219.0,1126.2 219.3,1127.5C219.5,1128.8 219.8,1130.1 220.0,1131.4C220.2,1132.7 220.4,1134.0 220.6,1135.4C220.8,1136.7 221.0,1138.0 221.2,1139.3C221.4,1140.7 221.5,1142.0 221.7,1143.3C221.9,1144.6 222.0,1146.0 222.2,1147.3C222.3,1148.6 222.4,1150.0 222.6,1151.3C222.7,1152.6 222.8,1153.9 223.0,1155.3C223.1,1156.6 223.2,1157.9 223.4,1159.3C223.5,1160.6 223.6,1161.9 223.7,1163.3C223.9,1164.6 224.0,1165.9 224.1,1167.3C224.2,1168.6 224.3,1169.9 224.5,1171.3C224.6,1172.6 224.7,1173.9 224.8,1175.3C224.9,1176.6 225.1,1177.9 225.2,1179.3C225.3,1180.6 225.4,1181.9 225.5,1183.3C225.6,1184.6 225.8,1185.9 225.9,1187.3C226.0,1188.6 226.1,1189.9 226.2,1191.3C226.3,1192.6 226.5,1193.9 226.6,1195.3C226.7,1196.6 226.8,1197.9 226.9,1199.3C227.0,1200.6 227.2,1201.9 227.3,1203.3C227.4,1204.6 227.5,1205.9 227.6,1207.2C227.8,1208.6 227.9,1209.9 228.0,1211.2C228.1,1212.6 228.3,1213.9 228.4,1215.2C228.5,1216.6 228.6,1217.9 228.8,1219.2C228.9,1220.6 229.0,1221.9 229.2,1223.2C229.3,1224.6 229.4,1225.9 229.6,1227.2C229.7,1228.5 229.8,1229.9 229.9,1231.2C230.1,1232.5 230.2,1233.9 230.4,1235.2C230.5,1236.5 230.6,1237.9 230.8,1239.2C230.9,1240.5 231.0,1241.8 231.2,1243.2C231.3,1244.5 231.4,1245.8 231.6,1247.2C231.7,1248.5 231.9,1249.8 232.0,1251.2C232.1,1252.5 232.3,1253.8 232.4,1255.1C232.6,1256.5 232.7,1257.8 232.9,1259.1C233.0,1260.5 233.1,1261.8 233.3,1263.1C233.4,1264.4 233.6,1265.8 233.7,1267.1C233.9,1268.4 234.0,1269.8 234.2,1271.1C234.3,1272.4 234.5,1273.8 234.6,1275.1C234.8,1276.4 234.9,1277.7 235.1,1279.1C235.2,1280.4 235.4,1281.7 235.5,1283.1C235.7,1284.4 235.8,1285.7 236.0,1287.0C236.1,1288.4 236.3,1289.7 236.4,1291.0C236.6,1292.4 236.7,1293.7 236.9,1295.0C237.0,1296.4 237.2,1297.7 237.3,1299.0C237.5,1300.3 237.6,1301.7 237.8,1303.0C238.0,1304.3 238.1,1305.7 238.3,1307.0C238.4,1308.3 238.6,1309.7 238.8,1311.0C238.9,1312.3 239.1,1313.6 239.3,1315.0C239.4,1316.3 239.6,1317.6 239.8,1318.9C239.9,1320.3 240.1,1321.6 240.3,1322.9C240.5,1324.3 240.6,1325.6 240.8,1326.9C241.0,1328.2 241.2,1329.6 241.4,1330.9C241.6,1332.2 241.7,1333.5 241.9,1334.9C242.1,1336.2 242.3,1337.5 242.5,1338.8C242.7,1340.2 242.9,1341.5 243.1,1342.8C243.3,1344.1 243.5,1345.4 243.7,1346.8C243.9,1348.1 244.1,1349.4 244.3,1350.7C244.5,1352.0 244.8,1353.4 245.0,1354.7C245.2,1356.0 245.4,1357.3 245.6,1358.6C245.9,1360.0 246.1,1361.3 246.3,1362.6C246.6,1363.9 246.8,1365.2 247.0,1366.5C247.3,1367.8 247.5,1369.2 247.8,1370.5C248.0,1371.8 248.3,1373.1 248.5,1374.4C248.8,1375.7 249.0,1377.0 249.3,1378.3C249.6,1379.7 249.8,1381.0 250.1,1382.3C250.4,1383.6 250.7,1384.9 250.9,1386.2C251.2,1387.5 251.5,1388.8 251.8,1390.1C252.1,1391.4 252.4,1392.7 252.7,1394.0C253.0,1395.3 253.3,1396.6 253.6,1397.9C253.9,1399.2 254.2,1400.5 254.5,1401.8C254.8,1403.2 255.1,1404.5 255.5,1405.8C255.8,1407.1 256.1,1408.4 256.4,1409.7C256.8,1411.0 257.1,1412.3 257.4,1413.6C257.8,1414.9 258.1,1416.2 258.5,1417.5C258.9,1418.8 259.3,1420.0 259.7,1421.3C260.1,1422.6 260.6,1423.8 261.0,1425.1C261.5,1426.3 262.0,1427.6 262.6,1428.8C263.1,1430.0 263.7,1431.2 264.4,1432.3C265.0,1433.5 265.7,1434.7 266.4,1435.8C267.2,1436.9 268.0,1438.0 268.8,1439.0C269.7,1440.0 270.6,1441.0 271.6,1441.9C272.6,1442.8 273.6,1443.7 274.7,1444.4C275.8,1445.2 276.9,1445.9 278.1,1446.6C279.2,1447.3 280.4,1447.9 281.6,1448.6C282.8,1449.2 284.0,1449.8 285.2,1450.4C286.4,1451.0 287.6,1451.5 288.9,1452.0C290.1,1452.5 291.3,1453.0 292.6,1453.4C293.9,1453.9 295.1,1454.3 296.4,1454.6C297.7,1455.0 299.0,1455.3 300.3,1455.7C301.6,1456.0 302.9,1456.3 304.2,1456.6C305.5,1456.8 306.8,1457.1 308.1,1457.3C309.5,1457.6 310.8,1457.8 312.1,1458.1C313.4,1458.3 314.8,1458.5 316.1,1458.8C317.4,1459.0 318.7,1459.2 320.0,1459.5C321.4,1459.7 322.7,1459.9 324.0,1460.2C325.3,1460.4 326.6,1460.7 327.9,1460.9C329.2,1461.1 330.5,1461.4 331.9,1461.6C333.2,1461.9 334.5,1462.1 335.8,1462.3C337.1,1462.6 338.4,1462.8 339.7,1463.0C341.0,1463.2 342.4,1463.4 343.7,1463.5C345.0,1463.7 346.3,1463.9 347.6,1464.0C349.0,1464.1 350.3,1464.2 351.7,1464.3C353.0,1464.4 354.3,1464.5 355.7,1464.5C357.1,1464.5 358.4,1464.5 359.8,1464.5C361.2,1464.5 362.5,1464.5 363.9,1464.4C365.3,1464.4 366.7,1464.4 368.0,1464.4C369.4,1464.4 370.7,1464.4 372.1,1464.6C373.4,1464.7 374.7,1464.9 376.0,1465.1C377.3,1465.4 378.5,1465.7 379.8,1466.1C381.0,1466.5 382.2,1467.0 383.4,1467.6C384.6,1468.1 385.8,1468.7 387.0,1469.3C388.1,1469.9 389.3,1470.6 390.4,1471.3C391.6,1472.0 392.7,1472.7 393.8,1473.4C395.0,1474.1 396.1,1474.9 397.2,1475.6C398.3,1476.4 399.4,1477.2 400.5,1477.9C401.6,1478.7 402.7,1479.5 403.8,1480.3C404.9,1481.1 406.1,1481.8 407.2,1482.6C408.3,1483.4 409.4,1484.2 410.5,1484.9C411.6,1485.7 412.7,1486.4 413.9,1487.2C415.0,1487.9 416.1,1488.6 417.3,1489.3C418.4,1490.0 419.6,1490.6 420.7,1491.3C421.9,1491.9 423.1,1492.5 424.3,1493.1C425.5,1493.6 426.7,1494.2 427.9,1494.7C429.1,1495.2 430.3,1495.7 431.6,1496.2C432.8,1496.7 434.1,1497.1 435.3,1497.5C436.6,1498.0 437.9,1498.4 439.1,1498.7C440.4,1499.1 441.7,1499.5 443.0,1499.9C444.3,1500.2 445.6,1500.5 446.9,1500.9C448.2,1501.2 449.5,1501.5 450.8,1501.8C452.1,1502.1 453.4,1502.4 454.7,1502.7C456.0,1503.0 457.3,1503.2 458.7,1503.5C460.0,1503.8 461.3,1504.1 462.6,1504.3C464.0,1504.6 465.3,1504.8 466.6,1505.1C467.9,1505.4 469.2,1505.6 470.6,1505.9C471.9,1506.2 473.2,1506.4 474.5,1506.7C475.8,1507.0 477.2,1507.2 478.5,1507.5C479.8,1507.8 481.1,1508.0 482.4,1508.3C483.7,1508.6 485.0,1508.9 486.3,1509.1C487.7,1509.4 489.0,1509.7 490.3,1510.0C491.6,1510.2 492.9,1510.5 494.2,1510.8C495.5,1511.1 496.8,1511.3 498.1,1511.6C499.4,1511.9 500.7,1512.2 502.0,1512.4C503.3,1512.7 504.7,1513.0 506.0,1513.2C507.3,1513.5 508.6,1513.8 509.9,1514.0C511.2,1514.3 512.5,1514.5 513.8,1514.8C515.1,1515.0 516.4,1515.3 517.7,1515.5C519.0,1515.8 520.4,1516.0 521.7,1516.3C523.0,1516.5 524.3,1516.7 525.6,1517.0C526.9,1517.2 528.2,1517.4 529.6,1517.7C530.9,1517.9 532.2,1518.1 533.5,1518.3C534.8,1518.5 536.1,1518.7 537.5,1518.9C538.8,1519.2 540.1,1519.4 541.4,1519.6C542.7,1519.8 544.1,1520.0 545.4,1520.2C546.7,1520.3 548.0,1520.5 549.4,1520.7C550.7,1520.9 552.0,1521.1 553.3,1521.3C554.7,1521.5 556.0,1521.6 557.3,1521.8C558.6,1522.0 560.0,1522.2 561.3,1522.3C562.6,1522.5 563.9,1522.7 565.3,1522.8C566.6,1523.0 567.9,1523.1 569.3,1523.3C570.6,1523.5 571.9,1523.6 573.2,1523.8C574.6,1523.9 575.9,1524.1 577.2,1524.2C578.6,1524.4 579.9,1524.5 581.2,1524.6C582.6,1524.8 583.9,1524.9 585.2,1525.1C586.6,1525.2 587.9,1525.3 589.2,1525.5C590.6,1525.6 591.9,1525.7 593.2,1525.9C594.6,1526.0 595.9,1526.1 597.2,1526.3C598.6,1526.4 599.9,1526.5 601.2,1526.6C602.6,1526.8 603.9,1526.9 605.2,1527.0C606.6,1527.1 607.9,1527.2 609.2,1527.4C610.6,1527.5 611.9,1527.6 613.2,1527.7C614.6,1527.8 615.9,1527.9 617.2,1528.0C618.6,1528.2 619.9,1528.3 621.2,1528.4C622.6,1528.5 623.9,1528.6 625.2,1528.7C626.6,1528.8 627.9,1528.9 629.2,1529.0C630.6,1529.1 631.9,1529.2 633.2,1529.3C634.6,1529.4 635.9,1529.5 637.2,1529.6C638.6,1529.7 639.9,1529.8 641.2,1529.9C642.6,1530.0 643.9,1530.1 645.2,1530.2C646.6,1530.3 647.9,1530.4 649.2,1530.4C650.6,1530.5 651.9,1530.6 653.2,1530.7C654.6,1530.8 655.9,1530.9 657.3,1531.0C658.6,1531.1 659.9,1531.1 661.3,1531.2C662.6,1531.3 663.9,1531.4 665.3,1531.5C666.6,1531.5 667.9,1531.6 669.3,1531.7C670.6,1531.8 671.9,1531.8 673.3,1531.9C674.6,1532.0 675.9,1532.1 677.3,1532.1C678.6,1532.2 679.9,1532.3 681.3,1532.4C682.6,1532.4 684.0,1532.5 685.3,1532.6C686.6,1532.6 688.0,1532.7 689.3,1532.8C690.6,1532.8 692.0,1532.9 693.3,1533.0C694.6,1533.0 696.0,1533.1 697.3,1533.2C698.6,1533.2 700.0,1533.3 701.3,1533.3C702.7,1533.4 704.0,1533.5 705.3,1533.5C706.7,1533.6 708.0,1533.6 709.3,1533.7C710.7,1533.8 712.0,1533.8 713.3,1533.9C714.7,1533.9 716.0,1534.0 717.4,1534.0C718.7,1534.1 720.0,1534.1 721.4,1534.2C722.7,1534.2 724.0,1534.3 725.4,1534.3C726.7,1534.4 728.0,1534.4 729.4,1534.5C730.7,1534.5 732.0,1534.6 733.4,1534.6C734.7,1534.7 736.1,1534.7 737.4,1534.8C738.7,1534.8 740.1,1534.9 741.4,1534.9C742.7,1534.9 744.1,1535.0 745.4,1535.0C746.7,1535.1 748.1,1535.1 749.4,1535.2C750.8,1535.2 752.1,1535.2 753.4,1535.3C754.8,1535.3 756.1,1535.4 757.4,1535.4C758.8,1535.4 760.1,1535.5 761.5,1535.5C762.8,1535.6 764.1,1535.6 765.5,1535.6C766.8,1535.7 768.1,1535.7 769.5,1535.7C770.8,1535.8 772.1,1535.8 773.5,1535.9C774.8,1535.9 776.2,1535.9 777.5,1536.0C778.8,1536.0 780.2,1536.0 781.5,1536.1C782.8,1536.1 784.2,1536.1 785.5,1536.2C786.9,1536.2 788.2,1536.2 789.5,1536.3C790.9,1536.3 792.2,1536.3 793.5,1536.4C794.9,1536.4 796.2,1536.4 797.5,1536.4C798.9,1536.5 800.2,1536.5 801.6,1536.5C802.9,1536.6 804.2,1536.6 805.6,1536.6C806.9,1536.7 808.2,1536.7 809.6,1536.7C810.9,1536.7 812.3,1536.8 813.6,1536.8C814.9,1536.8 816.3,1536.9 817.6,1536.9C818.9,1536.9 820.3,1536.9 821.6,1537.0C823.0,1537.0 824.3,1537.0 825.6,1537.0C827.0,1537.1 828.3,1537.1 829.6,1537.1C831.0,1537.2 832.3,1537.2 833.7,1537.2C835.0,1537.2 836.3,1537.3 837.7,1537.3C839.0,1537.3 840.3,1537.3 841.7,1537.4C843.0,1537.4 844.4,1537.4 845.7,1537.5C847.0,1537.5 848.4,1537.5 849.7,1537.5C851.0,1537.6 852.4,1537.6 853.7,1537.6C855.1,1537.6 856.4,1537.7 857.7,1537.7C859.1,1537.7 860.4,1537.8 861.7,1537.8C863.1,1537.8 864.4,1537.8 865.8,1537.9C867.1,1537.9 868.4,1537.9 869.8,1537.9C871.1,1538.0 872.4,1538.0 873.8,1538.0C875.1,1538.1 876.5,1538.1 877.8,1538.1C879.1,1538.1 880.5,1538.2 881.8,1538.2C883.1,1538.2 884.5,1538.2 885.8,1538.3C887.2,1538.3 888.5,1538.3 889.8,1538.3C891.2,1538.4 892.5,1538.4 893.8,1538.4C895.2,1538.5 896.5,1538.5 897.9,1538.5C899.2,1538.5 900.5,1538.6 901.9,1538.6C903.2,1538.6 904.5,1538.7 905.9,1538.7C907.2,1538.7 908.6,1538.7 909.9,1538.8C911.2,1538.8 912.6,1538.8 913.9,1538.8C915.2,1538.9 916.6,1538.9 917.9,1538.9C919.3,1539.0 920.6,1539.0 921.9,1539.0C923.3,1539.0 924.6,1539.1 925.9,1539.1C927.3,1539.1 928.6,1539.1 930.0,1539.2C931.3,1539.2 932.6,1539.2 934.0,1539.3C935.3,1539.3 936.6,1539.3 938.0,1539.3C939.3,1539.4 940.7,1539.4 942.0,1539.4C943.3,1539.4 944.7,1539.5 946.0,1539.5C947.3,1539.5 948.7,1539.6 950.0,1539.6C951.4,1539.6 952.7,1539.6 954.0,1539.7C955.4,1539.7 956.7,1539.7 958.0,1539.7C959.4,1539.8 960.7,1539.8 962.1,1539.8C963.4,1539.9 964.7,1539.9 966.1,1539.9C967.4,1539.9 968.7,1540.0 970.1,1540.0C971.4,1540.0 972.8,1540.0 974.1,1540.1C975.4,1540.1 976.8,1540.1 978.1,1540.2C979.4,1540.2 980.8,1540.2 982.1,1540.2C983.5,1540.3 984.8,1540.3 986.1,1540.3C987.5,1540.3 988.8,1540.4 990.1,1540.4C991.5,1540.4 992.8,1540.4 994.2,1540.5C995.5,1540.5 996.8,1540.5 998.2,1540.6C999.5,1540.6 1000.8,1540.6 1002.2,1540.6C1003.5,1540.7 1004.9,1540.7 1006.2,1540.7C1007.5,1540.7 1008.9,1540.8 1010.2,1540.8C1011.5,1540.8 1012.9,1540.8 1014.2,1540.9C1015.6,1540.9 1016.9,1540.9 1018.2,1541.0C1019.6,1541.0 1020.9,1541.0 1022.2,1541.0C1023.6,1541.1 1024.9,1541.1 1026.3,1541.1C1027.6,1541.1 1028.9,1541.2 1030.3,1541.2C1031.6,1541.2 1032.9,1541.2 1034.3,1541.3C1035.6,1541.3 1037.0,1541.3 1038.3,1541.3C1039.6,1541.4 1041.0,1541.4 1042.3,1541.4C1043.7,1541.4 1045.0,1541.5 1046.3,1541.5C1047.7,1541.5 1049.0,1541.6 1050.3,1541.6C1051.7,1541.6 1053.0,1541.6 1054.4,1541.7C1055.7,1541.7 1057.0,1541.7 1058.4,1541.7C1059.7,1541.8 1061.0,1541.8 1062.4,1541.8C1063.7,1541.8 1065.1,1541.9 1066.4,1541.9C1067.7,1541.9 1069.1,1541.9 1070.4,1542.0C1071.7,1542.0 1073.1,1542.0 1074.4,1542.0C1075.8,1542.1 1077.1,1542.1 1078.4,1542.1C1079.8,1542.1 1081.1,1542.2 1082.4,1542.2C1083.8,1542.2 1085.1,1542.2 1086.5,1542.3C1087.8,1542.3 1089.1,1542.3 1090.5,1542.3C1091.8,1542.4 1093.1,1542.4 1094.5,1542.4C1095.8,1542.4 1097.2,1542.4 1098.5,1542.5C1099.8,1542.5 1101.2,1542.5 1102.5,1542.5C1103.9,1542.6 1105.2,1542.6 1106.5,1542.6C1107.9,1542.6 1109.2,1542.7 1110.5,1542.7C1111.9,1542.7 1113.2,1542.7 1114.6,1542.8C1115.9,1542.8 1117.2,1542.8 1118.6,1542.8C1119.9,1542.9 1121.2,1542.9 1122.6,1542.9C1123.9,1542.9 1125.3,1542.9 1126.6,1543.0C1127.9,1543.0 1129.3,1543.0 1130.6,1543.0C1131.9,1543.1 1133.3,1543.1 1134.6,1543.1C1136.0,1543.1 1137.3,1543.1 1138.6,1543.2C1140.0,1543.2 1141.3,1543.2 1142.6,1543.2C1144.0,1543.3 1145.3,1543.3 1146.7,1543.3C1148.0,1543.3 1149.3,1543.3 1150.7,1543.4C1152.0,1543.4 1153.3,1543.4 1154.7,1543.4C1156.0,1543.5 1157.4,1543.5 1158.7,1543.5C1160.0,1543.5 1161.4,1543.5 1162.7,1543.6C1164.1,1543.6 1165.4,1543.6 1166.7,1543.6C1168.1,1543.6 1169.4,1543.7 1170.7,1543.7C1172.1,1543.7 1173.4,1543.7 1174.8,1543.8C1176.1,1543.8 1177.4,1543.8 1178.8,1543.8C1180.1,1543.8 1181.4,1543.9 1182.8,1543.9C1184.1,1543.9 1185.5,1543.9 1186.8,1543.9C1188.1,1544.0 1189.5,1544.0 1190.8,1544.0C1192.1,1544.0 1193.5,1544.0 1194.8,1544.1C1196.2,1544.1 1197.5,1544.1 1198.8,1544.1C1200.2,1544.1 1201.5,1544.2 1202.8,1544.2C1204.2,1544.2 1205.5,1544.2 1206.9,1544.2C1208.2,1544.2 1209.5,1544.3 1210.9,1544.3C1212.2,1544.3 1213.5,1544.3 1214.9,1544.3C1216.2,1544.4 1217.6,1544.4 1218.9,1544.4C1220.2,1544.4 1221.6,1544.4 1222.9,1544.4C1224.3,1544.5 1225.6,1544.5 1226.9,1544.5C1228.3,1544.5 1229.6,1544.5 1230.9,1544.6C1232.3,1544.6 1233.6,1544.6 1235.0,1544.6C1236.3,1544.6 1237.6,1544.6 1239.0,1544.7C1240.3,1544.7 1241.6,1544.7 1243.0,1544.7C1244.3,1544.7 1245.7,1544.7 1247.0,1544.8C1248.3,1544.8 1249.7,1544.8 1251.0,1544.8C1252.3,1544.8 1253.7,1544.8 1255.0,1544.9C1256.4,1544.9 1257.7,1544.9 1259.0,1544.9C1260.4,1544.9 1261.7,1544.9 1263.0,1544.9C1264.4,1545.0 1265.7,1545.0 1267.1,1545.0C1268.4,1545.0 1269.7,1545.0 1271.1,1545.0C1272.4,1545.1 1273.7,1545.1 1275.1,1545.1C1276.4,1545.1 1277.8,1545.1 1279.1,1545.1C1280.4,1545.1 1281.8,1545.2 1283.1,1545.2C1284.5,1545.2 1285.8,1545.2 1287.1,1545.2C1288.5,1545.2 1289.8,1545.2 1291.1,1545.2C1292.5,1545.3 1293.8,1545.3 1295.2,1545.3C1296.5,1545.3 1297.8,1545.3 1299.2,1545.3C1300.5,1545.3 1301.8,1545.3 1303.2,1545.4C1304.5,1545.4 1305.9,1545.4 1307.2,1545.4C1308.5,1545.4 1309.9,1545.4 1311.2,1545.4C1312.5,1545.4 1313.9,1545.5 1315.2,1545.5C1316.6,1545.5 1317.9,1545.5 1319.2,1545.5C1320.6,1545.5 1321.9,1545.5 1323.2,1545.5C1324.6,1545.5 1325.9,1545.6 1327.3,1545.6C1328.6,1545.6 1329.9,1545.6 1331.3,1545.6C1332.6,1545.6 1333.9,1545.6 1335.3,1545.6C1336.6,1545.6 1338.0,1545.6 1339.3,1545.7C1340.6,1545.7 1342.0,1545.7 1343.3,1545.7C1344.6,1545.7 1346.0,1545.7 1347.3,1545.7C1348.7,1545.7 1350.0,1545.7 1351.3,1545.7C1352.7,1545.7 1354.0,1545.7 1355.3,1545.8C1356.7,1545.8 1358.0,1545.8 1359.4,1545.8C1360.7,1545.8 1362.0,1545.8 1363.4,1545.8C1364.7,1545.8 1366.1,1545.8 1367.4,1545.8C1368.7,1545.8 1370.1,1545.8 1371.4,1545.8C1372.7,1545.8 1374.1,1545.9 1375.4,1545.9C1376.8,1545.9 1378.1,1545.9 1379.4,1545.9C1380.8,1545.9 1382.1,1545.9 1383.4,1545.9C1384.8,1545.9 1386.1,1545.9 1387.5,1545.9C1388.8,1545.9 1390.1,1545.9 1391.5,1545.9C1392.8,1545.9 1394.1,1545.9 1395.5,1545.9C1396.8,1545.9 1398.2,1545.9 1399.5,1545.9C1400.8,1545.9 1402.2,1546.0 1403.5,1546.0C1404.8,1546.0 1406.2,1546.0 1407.5,1546.0C1408.9,1546.0 1410.2,1546.0 1411.5,1546.0C1412.9,1546.0 1414.2,1546.0 1415.5,1546.0C1416.9,1546.0 1418.2,1546.0 1419.6,1546.0C1420.9,1546.0 1422.2,1546.0 1423.6,1546.0C1424.9,1546.0 1426.2,1546.0 1427.6,1546.0C1428.9,1546.0 1430.3,1546.0 1431.6,1546.0C1432.9,1546.0 1434.3,1546.0 1435.6,1546.0C1436.9,1546.0 1438.3,1546.0 1439.6,1546.0C1441.0,1546.0 1442.3,1546.0 1443.6,1546.0C1445.0,1546.0 1446.3,1546.0 1447.6,1546.0C1449.0,1546.0 1450.3,1546.0 1451.7,1546.0C1453.0,1546.0 1454.3,1546.0 1455.7,1546.0C1457.0,1546.0 1458.3,1546.0 1459.7,1546.0C1461.0,1546.0 1462.4,1546.0 1463.7,1546.0C1465.0,1546.0 1466.4,1546.0 1467.7,1546.0C1469.0,1546.0 1470.4,1545.9 1471.7,1545.9C1473.1,1545.9 1474.4,1545.9 1475.7,1545.9C1477.1,1545.9 1478.4,1545.9 1479.7,1545.9C1481.1,1545.9 1482.4,1545.9 1483.8,1545.9C1485.1,1545.9 1486.4,1545.9 1487.8,1545.9C1489.1,1545.9 1490.4,1545.9 1491.8,1545.9C1493.1,1545.9 1494.5,1545.9 1495.8,1545.8C1497.1,1545.8 1498.5,1545.8 1499.8,1545.8C1501.1,1545.8 1502.5,1545.8 1503.8,1545.8C1505.2,1545.8 1506.5,1545.8 1507.8,1545.8C1509.2,1545.8 1510.5,1545.8 1511.8,1545.8C1513.2,1545.7 1514.5,1545.7 1515.9,1545.7C1517.2,1545.7 1518.5,1545.7 1519.9,1545.7C1521.2,1545.7 1522.5,1545.7 1523.9,1545.7C1525.2,1545.7 1526.6,1545.7 1527.9,1545.6C1529.2,1545.6 1530.6,1545.6 1531.9,1545.6C1533.2,1545.6 1534.6,1545.6 1535.9,1545.6C1537.3,1545.6 1538.6,1545.5 1539.9,1545.5C1541.3,1545.5 1542.6,1545.5 1543.9,1545.5C1545.3,1545.5 1546.6,1545.5 1548.0,1545.5C1549.3,1545.4 1550.6,1545.4 1552.0,1545.4C1553.3,1545.4 1554.6,1545.4 1556.0,1545.4C1557.3,1545.4 1559.3,1545.3 1560.0,1545.3" stroke="#808080"/>
<path d="M145.83,987.70C146.6,987.8 148.7,988.3 150.1,988.4C151.5,988.5 152.9,988.5 154.3,988.3C155.6,988.1 156.9,987.8 158.2,987.4C159.5,987.0 160.7,986.5 161.8,985.9C163.0,985.2 164.0,984.5 165.1,983.7C166.1,982.9 167.1,982.0 168.1,981.0C169.0,980.1 169.9,979.1 170.8,978.0C171.7,977.0 172.5,975.9 173.3,974.8C174.1,973.6 174.9,972.5 175.6,971.4C176.4,970.2 177.1,969.1 177.8,967.9C178.5,966.7 179.2,965.6 179.8,964.4C180.5,963.2 181.1,962.0 181.7,960.8C182.3,959.6 182.9,958.4 183.5,957.2C184.0,955.9 184.6,954.7 185.1,953.5C185.6,952.2 186.1,951.0 186.6,949.7C187.1,948.5 187.6,947.2 188.0,945.9C188.5,944.7 188.9,943.4 189.3,942.1C189.7,940.8 190.1,939.6 190.5,938.3C190.9,937.0 191.2,935.7 191.6,934.4C192.0,933.1 192.3,931.8 192.6,930.4C193.0,929.1 193.3,927.8 193.6,926.5C193.9,925.2 194.2,923.9 194.5,922.5C194.8,921.2 195.0,919.9 195.3,918.5C195.6,917.2 195.8,915.9 196.1,914.5C196.3,913.2 196.6,911.9 196.8,910.5C197.1,909.2 197.3,907.9 197.5,906.5C197.8,905.2 198.0,903.8 198.2,902.5C198.4,901.2 198.6,899.8 198.9,898.5C199.1,897.1 199.3,895.8 199.5,894.5C199.7,893.1 199.9,891.8 200.1,890.4C200.3,889.1 200.5,887.8 200.7,886.4C200.9,885.1 201.1,883.8 201.3,882.4C201.5,881.1 201.7,879.7 201.8,878.4C202.0,877.1 202.2,875.7 202.4,874.4C202.6,873.0 202.7,871.7 202.9,870.4C203.1,869.0 203.3,867.7 203.4,866.3C203.6,865.0 203.8,863.7 203.9,862.3C204.1,861.0 204.3,859.6 204.4,858.3C204.6,857.0 204.7,855.6 204.9,854.3C205.0,852.9 205.2,851.6 205.4,850.3C205.5,848.9 205.7,847.6 205.8,846.2C206.0,844.9 206.1,843.6 206.3,842.2C206.4,840.9 206.5,839.5 206.7,838.2C206.8,836.9 207.0,835.5 207.1,834.2C207.3,832.8 207.4,831.5 207.5,830.1C207.7,828.8 207.8,827.5 208.0,826.1C208.1,824.8 208.2,823.4 208.4,822.1C208.5,820.7 208.6,819.4 208.8,818.1C208.9,816.7 209.0,815.4 209.2,814.0C209.3,812.7 209.5,811.3 209.6,810.0C209.7,808.7 209.9,807.3 210.0,806.0C210.1,804.6 210.3,803.3 210.4,801.9C210.5,800.6 210.7,799.2 210.8,797.9C210.9,796.5 211.1,795.2 211.2,793.9C211.3,792.5 211.5,791.2 211.6,789.8C211.7,788.5 211.9,787.1 212.0,785.8C212.1,784.4 212.3,783.1 212.4,781.7C212.5,780.4 212.7,779.0 212.8,777.7C212.9,776.3 213.1,775.0 213.2,773.6C213.3,772.3 213.5,770.9 213.6,769.6C213.7,768.3 213.8,766.9 214.0,765.6C214.1,764.2 214.2,762.9 214.3,761.5C214.5,760.2 214.6,758.8 214.7,757.5C214.8,756.1 215.0,754.8 215.1,753.4C215.2,752.1 215.3,750.7 215.5,749.4C215.6,748.0 215.7,746.7 215.8,745.3C215.9,744.0 216.0,742.7 216.2,741.3C216.3,740.0 216.4,738.6 216.5,737.3C216.6,735.9 216.7,734.6 216.8,733.2C217.0,731.9 217.1,730.6 217.2,729.2C217.3,727.9 217.4,726.5 217.5,725.2C217.7,723.8 217.8,722.5 217.9,721.1C218.1,719.8 218.2,718.5 218.3,717.1C218.5,715.8 218.6,714.4 218.8,713.1C218.9,711.8 219.1,710.4 219.3,709.1C219.4,707.7 219.6,706.4 219.8,705.0C220.0,703.7 220.2,702.4 220.4,701.0C220.6,699.7 220.9,697.7 221.0,697.0C221.3,697.6 221.7,699.6 221.9,700.9C222.1,702.2 222.3,703.6 222.5,704.9C222.7,706.2 222.8,707.5 223.0,708.8C223.2,710.2 223.3,711.5 223.5,712.8C223.6,714.1 223.8,715.5 223.9,716.8C224.0,718.1 224.1,719.5 224.2,720.8C224.3,722.1 224.4,723.4 224.5,724.8C224.6,726.1 224.7,727.4 224.8,728.8C224.9,730.1 225.0,731.4 225.0,732.8C225.1,734.1 225.2,735.4 225.2,736.8C225.3,738.1 225.3,739.5 225.4,740.8C225.4,742.1 225.5,743.5 225.5,744.8C225.6,746.1 225.6,747.5 225.7,748.8C225.7,750.1 225.7,751.5 225.8,752.8C225.8,754.2 225.9,755.5 225.9,756.8C226.0,758.2 226.0,759.5 226.0,760.8C226.1,762.2 226.1,763.5 226.2,764.9C226.2,766.2 226.3,767.5 226.3,768.9C226.4,770.2 226.4,771.5 226.5,772.9C226.5,774.2 226.6,775.5 226.7,776.9C226.7,778.2 226.8,779.6 226.8,780.9C226.9,782.2 227.0,783.6 227.0,784.9C227.1,786.2 227.1,787.6 227.2,788.9C227.3,790.2 227.3,791.6 227.4,792.9C227.5,794.2 227.5,795.6 227.6,796.9C227.7,798.2 227.8,799.6 227.8,800.9C227.9,802.2 228.0,803.6 228.0,804.9C228.1,806.3 228.2,807.6 228.3,808.9C228.3,810.3 228.4,811.6 228.5,812.9C228.5,814.3 228.6,815.6 228.7,816.9C228.8,818.3 228.8,819.6 228.9,820.9C229.0,822.3 229.1,823.6 229.1,824.9C229.2,826.3 229.3,827.6 229.4,828.9C229.4,830.3 229.5,831.6 229.6,832.9C229.6,834.3 229.7,835.6 229.8,836.9C229.9,838.3 229.9,839.6 230.0,840.9C230.1,842.3 230.1,843.6 230.2,844.9C230.3,846.3 230.3,847.6 230.4,848.9C230.5,850.3 230.6,851.6 230.6,853.0C230.7,854.3 230.7,855.6 230.8,857.0C230.9,858.3 230.9,859.6 231.0,861.0C231.1,862.3 231.1,863.6 231.2,865.0C231.3,866.3 231.3,867.6 231.4,869.0C231.4,870.3 231.5,871.6 231.6,873.0C231.6,874.3 231.7,875.6 231.8,877.0C231.8,878.3 231.9,879.7 231.9,881.0C232.0,882.3 232.1,883.7 232.1,885.0C232.2,886.3 232.2,887.7 232.3,889.0C232.4,890.3 232.4,891.7 232.5,893.0C232.5,894.3 232.6,895.7 232.7,897.0C232.7,898.3 232.8,899.7 232.8,901.0C232.9,902.3 233.0,903.7 233.0,905.0C233.1,906.4 233.2,907.7 233.2,909.0C233.3,910.4 233.3,911.7 233.4,913.0C233.5,914.4 233.5,915.7 233.6,917.0C233.7,918.4 233.7,919.7 233.8,921.0C233.9,922.4 233.9,923.7 234.0,925.0C234.1,926.4 234.1,927.7 234.2,929.0C234.3,930.4 234.3,931.7 234.4,933.1C234.5,934.4 234.5,935.7 234.6,937.1C234.7,938.4 234.8,939.7 234.8,941.1C234.9,942.4 235.0,943.7 235.0,945.1C235.1,946.4 235.2,947.7 235.3,949.1C235.4,950.4 235.4,951.7 235.5,953.1C235.6,954.4 235.7,955.7 235.8,957.1C235.8,958.4 235.9,959.7 236.0,961.1C236.1,962.4 236.2,963.7 236.3,965.1C236.4,966.4 236.5,967.7 236.5,969.1C236.6,970.4 236.7,971.7 236.8,973.1C236.9,974.4 237.0,975.7 237.1,977.1C237.2,978.4 237.3,979.7 237.4,981.1C237.5,982.4 237.6,983.7 237.7,985.1C237.8,986.4 237.9,987.7 238.0,989.1C238.1,990.4 238.3,991.7 238.4,993.1C238.5,994.4 238.6,995.7 238.7,997.1C238.8,998.4 238.9,999.7 239.1,1001.1C239.2,1002.4 239.3,1003.7 239.4,1005.0C239.5,1006.4 239.7,1007.7 239.8,1009.0C239.9,1010.4 240.1,1011.7 240.2,1013.0C240.3,1014.4 240.5,1015.7 240.6,1017.0C240.7,1018.3 240.9,1019.7 241.0,1021.0C241.1,1022.3 241.3,1023.7 241.4,1025.0C241.6,1026.3 241.7,1027.7 241.9,1029.0C242.0,1030.3 242.2,1031.6 242.3,1033.0C242.5,1034.3 242.6,1035.6 242.8,1037.0C242.9,1038.3 243.1,1039.6 243.2,1040.9C243.4,1042.3 243.6,1043.6 243.7,1044.9C243.9,1046.2 244.1,1047.6 244.2,1048.9C244.4,1050.2 244.6,1051.5 244.7,1052.9C244.9,1054.2 245.1,1055.5 245.3,1056.8C245.4,1058.2 245.6,1059.5 245.8,1060.8C246.0,1062.1 246.2,1063.5 246.3,1064.8C246.5,1066.1 246.7,1067.4 246.9,1068.8C247.1,1070.1 247.3,1071.4 247.5,1072.7C247.7,1074.0 247.9,1075.4 248.1,1076.7C248.3,1078.0 248.5,1079.3 248.7,1080.7C248.9,1082.0 249.1,1083.3 249.3,1084.6C249.5,1085.9 249.7,1087.3 249.9,1088.6C250.1,1089.9 250.4,1091.2 250.6,1092.5C250.8,1093.8 251.0,1095.2 251.2,1096.5C251.5,1097.8 251.7,1099.1 251.9,1100.4C252.1,1101.7 252.4,1103.1 252.6,1104.4C252.8,1105.7 253.1,1107.0 253.3,1108.3C253.5,1109.6 253.8,1111.0 254.0,1112.3C254.3,1113.6 254.5,1114.9 254.8,1116.2C255.0,1117.5 255.3,1118.8 255.5,1120.1C255.8,1121.5 256.0,1122.8 256.3,1124.1C256.5,1125.4 256.8,1126.7 257.1,1128.0C257.3,1129.3 257.6,1130.6 257.9,1131.9C258.2,1133.2 258.4,1134.5 258.7,1135.8C259.0,1137.1 259.3,1138.5 259.6,1139.8C259.9,1141.1 260.2,1142.4 260.5,1143.7C260.8,1145.0 261.1,1146.3 261.4,1147.6C261.8,1148.9 262.1,1150.2 262.4,1151.5C262.8,1152.8 263.1,1154.1 263.4,1155.3C263.8,1156.6 264.1,1157.9 264.5,1159.2C264.9,1160.5 265.2,1161.8 265.6,1163.1C266.0,1164.4 266.4,1165.7 266.8,1166.9C267.2,1168.2 267.7,1169.5 268.1,1170.7C268.6,1172.0 269.1,1173.2 269.6,1174.5C270.1,1175.7 270.6,1176.9 271.2,1178.1C271.8,1179.3 272.4,1180.5 273.1,1181.6C273.7,1182.8 274.4,1183.9 275.2,1185.0C275.9,1186.1 276.7,1187.2 277.5,1188.3C278.3,1189.4 279.1,1190.4 280.0,1191.4C280.9,1192.4 281.8,1193.4 282.7,1194.3C283.7,1195.3 284.7,1196.2 285.7,1197.1C286.7,1198.0 287.7,1198.8 288.8,1199.6C289.9,1200.4 291.0,1201.2 292.1,1202.0C293.2,1202.7 294.4,1203.4 295.5,1204.1C296.7,1204.7 297.9,1205.3 299.1,1205.9C300.3,1206.5 301.5,1207.0 302.8,1207.5C304.0,1208.0 305.2,1208.5 306.5,1208.9C307.7,1209.4 309.0,1209.8 310.3,1210.3C311.5,1210.7 312.8,1211.2 314.0,1211.7C315.3,1212.1 316.5,1212.6 317.7,1213.1C319.0,1213.7 320.2,1214.2 321.4,1214.8C322.6,1215.3 323.8,1215.9 325.0,1216.5C326.2,1217.1 327.4,1217.7 328.6,1218.3C329.8,1218.9 331.0,1219.5 332.3,1220.0C333.5,1220.6 334.7,1221.2 335.9,1221.7C337.1,1222.3 338.3,1222.8 339.6,1223.3C340.8,1223.9 342.1,1224.4 343.3,1224.8C344.5,1225.3 345.8,1225.8 347.1,1226.2C348.3,1226.6 349.6,1227.0 350.9,1227.4C352.2,1227.8 353.4,1228.1 354.7,1228.4C356.0,1228.7 357.3,1229.0 358.6,1229.2C359.9,1229.5 361.3,1229.7 362.6,1229.9C363.9,1230.1 365.3,1230.2 366.6,1230.4C367.9,1230.6 369.2,1230.7 370.6,1231.0C371.9,1231.2 373.2,1231.6 374.5,1232.0C375.8,1232.4 377.0,1232.8 378.2,1233.3C379.5,1233.9 380.7,1234.5 381.8,1235.2C383.0,1235.8 384.1,1236.5 385.2,1237.3C386.3,1238.1 387.3,1238.9 388.3,1239.8C389.3,1240.7 390.3,1241.6 391.3,1242.5C392.3,1243.4 393.2,1244.4 394.1,1245.4C395.0,1246.3 395.9,1247.3 396.8,1248.3C397.7,1249.3 398.6,1250.4 399.5,1251.4C400.3,1252.4 401.2,1253.4 402.0,1254.4C402.9,1255.4 403.7,1256.5 404.5,1257.5C405.4,1258.5 406.2,1259.6 407.0,1260.6C407.8,1261.7 408.7,1262.7 409.5,1263.8C410.3,1264.8 411.2,1265.8 412.0,1266.9C412.8,1267.9 413.7,1269.0 414.5,1270.0C415.4,1271.1 416.2,1272.1 417.1,1273.1C418.0,1274.2 418.8,1275.2 419.7,1276.2C420.6,1277.2 421.6,1278.2 422.5,1279.2C423.4,1280.2 424.4,1281.1 425.3,1282.0C426.3,1283.0 427.3,1283.9 428.3,1284.7C429.3,1285.6 430.4,1286.4 431.4,1287.2C432.5,1288.0 433.6,1288.7 434.7,1289.4C435.8,1290.2 437.0,1290.8 438.1,1291.5C439.3,1292.1 440.5,1292.7 441.6,1293.3C442.8,1293.9 444.0,1294.5 445.3,1295.0C446.5,1295.6 447.7,1296.1 449.0,1296.6C450.2,1297.1 451.5,1297.5 452.7,1298.0C454.0,1298.5 455.3,1298.9 456.6,1299.3C457.8,1299.8 459.1,1300.2 460.4,1300.6C461.7,1301.0 463.0,1301.4 464.2,1301.8C465.5,1302.2 466.8,1302.5 468.1,1302.9C469.4,1303.3 470.7,1303.6 472.0,1304.0C473.3,1304.4 474.5,1304.7 475.8,1305.1C477.1,1305.4 478.4,1305.7 479.7,1306.1C481.0,1306.4 482.3,1306.7 483.6,1307.0C484.9,1307.4 486.2,1307.7 487.5,1308.0C488.8,1308.3 490.1,1308.6 491.4,1308.9C492.7,1309.2 494.0,1309.5 495.3,1309.8C496.6,1310.1 497.9,1310.4 499.2,1310.7C500.5,1311.0 501.8,1311.3 503.1,1311.5C504.4,1311.8 505.7,1312.1 507.0,1312.4C508.3,1312.7 509.6,1313.0 510.9,1313.2C512.2,1313.5 513.5,1313.8 514.9,1314.1C516.2,1314.3 517.5,1314.6 518.8,1314.9C520.1,1315.2 521.4,1315.4 522.7,1315.7C524.0,1316.0 525.3,1316.2 526.6,1316.5C527.9,1316.7 529.3,1317.0 530.6,1317.3C531.9,1317.5 533.2,1317.8 534.5,1318.0C535.8,1318.3 537.1,1318.5 538.5,1318.8C539.8,1319.0 541.1,1319.3 542.4,1319.5C543.7,1319.8 545.0,1320.0 546.3,1320.2C547.7,1320.5 549.0,1320.7 550.3,1320.9C551.6,1321.2 552.9,1321.4 554.3,1321.6C555.6,1321.8 556.9,1322.1 558.2,1322.3C559.5,1322.5 560.9,1322.7 562.2,1322.9C563.5,1323.1 564.8,1323.3 566.1,1323.5C567.5,1323.7 568.8,1323.9 570.1,1324.1C571.4,1324.3 572.8,1324.5 574.1,1324.7C575.4,1324.9 576.7,1325.1 578.1,1325.2C579.4,1325.4 580.7,1325.6 582.0,1325.8C583.4,1325.9 584.7,1326.1 586.0,1326.2C587.3,1326.4 588.7,1326.6 590.0,1326.7C591.3,1326.9 592.6,1327.0 594.0,1327.1C595.3,1327.3 596.6,1327.4 598.0,1327.6C599.3,1327.7 600.6,1327.8 601.9,1328.0C603.3,1328.1 604.6,1328.2 605.9,1328.3C607.3,1328.4 608.6,1328.6 609.9,1328.7C611.3,1328.8 612.6,1328.9 613.9,1329.0C615.2,1329.1 616.6,1329.2 617.9,1329.3C619.2,1329.4 620.6,1329.5 621.9,1329.6C623.2,1329.7 624.6,1329.8 625.9,1329.9C627.2,1330.0 628.6,1330.1 629.9,1330.2C631.2,1330.3 632.6,1330.3 633.9,1330.4C635.2,1330.5 636.6,1330.6 637.9,1330.7C639.2,1330.7 640.6,1330.8 641.9,1330.9C643.2,1331.0 644.6,1331.0 645.9,1331.1C647.2,1331.2 648.6,1331.2 649.9,1331.3C651.3,1331.4 652.6,1331.4 653.9,1331.5C655.3,1331.5 656.6,1331.6 657.9,1331.7C659.3,1331.7 660.6,1331.8 661.9,1331.8C663.3,1331.9 664.6,1332.0 665.9,1332.0C667.3,1332.1 668.6,1332.1 669.9,1332.2C671.3,1332.2 672.6,1332.3 674.0,1332.3C675.3,1332.4 676.6,1332.4 678.0,1332.5C679.3,1332.5 680.6,1332.6 682.0,1332.6C683.3,1332.7 684.6,1332.7 686.0,1332.8C687.3,1332.8 688.7,1332.9 690.0,1332.9C691.3,1333.0 692.7,1333.0 694.0,1333.1C695.3,1333.1 696.7,1333.2 698.0,1333.2C699.3,1333.3 700.7,1333.3 702.0,1333.3C703.4,1333.4 704.7,1333.4 706.0,1333.5C707.4,1333.5 708.7,1333.6 710.0,1333.6C711.4,1333.7 712.7,1333.7 714.0,1333.8C715.4,1333.8 716.7,1333.8 718.0,1333.9C719.4,1333.9 720.7,1334.0 722.1,1334.0C723.4,1334.1 724.7,1334.1 726.1,1334.1C727.4,1334.2 728.7,1334.2 730.1,1334.3C731.4,1334.3 732.7,1334.3 734.1,1334.4C735.4,1334.4 736.8,1334.5 738.1,1334.5C739.4,1334.5 740.8,1334.6 742.1,1334.6C743.4,1334.7 744.8,1334.7 746.1,1334.7C747.4,1334.8 748.8,1334.8 750.1,1334.9C751.4,1334.9 752.8,1334.9 754.1,1335.0C755.5,1335.0 756.8,1335.1 758.1,1335.1C759.5,1335.1 760.8,1335.2 762.1,1335.2C763.5,1335.2 764.8,1335.3 766.1,1335.3C767.5,1335.3 768.8,1335.4 770.2,1335.4C771.5,1335.5 772.8,1335.5 774.2,1335.5C775.5,1335.6 776.8,1335.6 778.2,1335.6C779.5,1335.7 780.8,1335.7 782.2,1335.7C783.5,1335.8 784.8,1335.8 786.2,1335.8C787.5,1335.9 788.9,1335.9 790.2,1335.9C791.5,1336.0 792.9,1336.0 794.2,1336.0C795.5,1336.1 796.9,1336.1 798.2,1336.1C799.5,1336.2 800.9,1336.2 802.2,1336.2C803.6,1336.3 804.9,1336.3 806.2,1336.3C807.6,1336.4 808.9,1336.4 810.2,1336.4C811.6,1336.5 812.9,1336.5 814.2,1336.5C815.6,1336.5 816.9,1336.6 818.2,1336.6C819.6,1336.6 820.9,1336.7 822.3,1336.7C823.6,1336.7 824.9,1336.8 826.3,1336.8C827.6,1336.8 828.9,1336.9 830.3,1336.9C831.6,1336.9 832.9,1336.9 834.3,1337.0C835.6,1337.0 837.0,1337.0 838.3,1337.1C839.6,1337.1 841.0,1337.1 842.3,1337.1C843.6,1337.2 845.0,1337.2 846.3,1337.2C847.6,1337.3 849.0,1337.3 850.3,1337.3C851.7,1337.4 853.0,1337.4 854.3,1337.4C855.7,1337.4 857.0,1337.5 858.3,1337.5C859.7,1337.5 861.0,1337.6 862.3,1337.6C863.7,1337.6 865.0,1337.6 866.3,1337.7C867.7,1337.7 869.0,1337.7 870.4,1337.7C871.7,1337.8 873.0,1337.8 874.4,1337.8C875.7,1337.9 877.0,1337.9 878.4,1337.9C879.7,1337.9 881.0,1338.0 882.4,1338.0C883.7,1338.0 885.1,1338.0 886.4,1338.1C887.7,1338.1 889.1,1338.1 890.4,1338.2C891.7,1338.2 893.1,1338.2 894.4,1338.2C895.7,1338.3 897.1,1338.3 898.4,1338.3C899.8,1338.3 901.1,1338.4 902.4,1338.4C903.8,1338.4 905.1,1338.4 906.4,1338.5C907.8,1338.5 909.1,1338.5 910.4,1338.5C911.8,1338.6 913.1,1338.6 914.5,1338.6C915.8,1338.6 917.1,1338.7 918.5,1338.7C919.8,1338.7 921.1,1338.7 922.5,1338.8C923.8,1338.8 925.1,1338.8 926.5,1338.8C927.8,1338.9 929.2,1338.9 930.5,1338.9C931.8,1338.9 933.2,1339.0 934.5,1339.0C935.8,1339.0 937.2,1339.0 938.5,1339.1C939.8,1339.1 941.2,1339.1 942.5,1339.1C943.9,1339.2 945.2,1339.2 946.5,1339.2C947.9,1339.2 949.2,1339.3 950.5,1339.3C951.9,1339.3 953.2,1339.3 954.5,1339.4C955.9,1339.4 957.2,1339.4 958.6,1339.4C959.9,1339.4 961.2,1339.5 962.6,1339.5C963.9,1339.5 965.2,1339.5 966.6,1339.6C967.9,1339.6 969.2,1339.6 970.6,1339.6C971.9,1339.6 973.3,1339.7 974.6,1339.7C975.9,1339.7 977.3,1339.7 978.6,1339.8C979.9,1339.8 981.3,1339.8 982.6,1339.8C983.9,1339.8 985.3,1339.9 986.6,1339.9C988.0,1339.9 989.3,1339.9 990.6,1340.0C992.0,1340.0 993.3,1340.0 994.6,1340.0C996.0,1340.0 997.3,1340.1 998.6,1340.1C1000.0,1340.1 1001.3,1340.1 1002.7,1340.1C1004.0,1340.2 1005.3,1340.2 1006.7,1340.2C1008.0,1340.2 1009.3,1340.2 1010.7,1340.3C1012.0,1340.3 1013.3,1340.3 1014.7,1340.3C1016.0,1340.3 1017.4,1340.4 1018.7,1340.4C1020.0,1340.4 1021.4,1340.4 1022.7,1340.4C1024.0,1340.5 1025.4,1340.5 1026.7,1340.5C1028.0,1340.5 1029.4,1340.5 1030.7,1340.6C1032.1,1340.6 1033.4,1340.6 1034.7,1340.6C1036.1,1340.6 1037.4,1340.7 1038.7,1340.7C1040.1,1340.7 1041.4,1340.7 1042.7,1340.7C1044.1,1340.7 1045.4,1340.8 1046.8,1340.8C1048.1,1340.8 1049.4,1340.8 1050.8,1340.8C1052.1,1340.9 1053.4,1340.9 1054.8,1340.9C1056.1,1340.9 1057.4,1340.9 1058.8,1340.9C1060.1,1341.0 1061.5,1341.0 1062.8,1341.0C1064.1,1341.0 1065.5,1341.0 1066.8,1341.0C1068.1,1341.1 1069.5,1341.1 1070.8,1341.1C1072.2,1341.1 1073.5,1341.1 1074.8,1341.1C1076.2,1341.2 1077.5,1341.2 1078.8,1341.2C1080.2,1341.2 1081.5,1341.2 1082.8,1341.2C1084.2,1341.3 1085.5,1341.3 1086.9,1341.3C1088.2,1341.3 1089.5,1341.3 1090.9,1341.3C1092.2,1341.3 1093.5,1341.4 1094.9,1341.4C1096.2,1341.4 1097.5,1341.4 1098.9,1341.4C1100.2,1341.4 1101.6,1341.5 1102.9,1341.5C1104.2,1341.5 1105.6,1341.5 1106.9,1341.5C1108.2,1341.5 1109.6,1341.5 1110.9,1341.6C1112.2,1341.6 1113.6,1341.6 1114.9,1341.6C1116.3,1341.6 1117.6,1341.6 1118.9,1341.6C1120.3,1341.7 1121.6,1341.7 1122.9,1341.7C1124.3,1341.7 1125.6,1341.7 1126.9,1341.7C1128.3,1341.7 1129.6,1341.7 1131.0,1341.8C1132.3,1341.8 1133.6,1341.8 1135.0,1341.8C1136.3,1341.8 1137.6,1341.8 1139.0,1341.8C1140.3,1341.8 1141.7,1341.9 1143.0,1341.9C1144.3,1341.9 1145.7,1341.9 1147.0,1341.9C1148.3,1341.9 1149.7,1341.9 1151.0,1341.9C1152.3,1342.0 1153.7,1342.0 1155.0,1342.0C1156.4,1342.0 1157.7,1342.0 1159.0,1342.0C1160.4,1342.0 1161.7,1342.0 1163.0,1342.0C1164.4,1342.1 1165.7,1342.1 1167.0,1342.1C1168.4,1342.1 1169.7,1342.1 1171.1,1342.1C1172.4,1342.1 1173.7,1342.1 1175.1,1342.1C1176.4,1342.2 1177.7,1342.2 1179.1,1342.2C1180.4,1342.2 1181.7,1342.2 1183.1,1342.2C1184.4,1342.2 1185.8,1342.2 1187.1,1342.2C1188.4,1342.2 1189.8,1342.3 1191.1,1342.3C1192.4,1342.3 1193.8,1342.3 1195.1,1342.3C1196.5,1342.3 1197.8,1342.3 1199.1,1342.3C1200.5,1342.3 1201.8,1342.3 1203.1,1342.3C1204.5,1342.4 1205.8,1342.4 1207.1,1342.4C1208.5,1342.4 1209.8,1342.4 1211.2,1342.4C1212.5,1342.4 1213.8,1342.4 1215.2,1342.4C1216.5,1342.4 1217.8,1342.4 1219.2,1342.4C1220.5,1342.4 1221.8,1342.5 1223.2,1342.5C1224.5,1342.5 1225.9,1342.5 1227.2,1342.5C1228.5,1342.5 1229.9,1342.5 1231.2,1342.5C1232.5,1342.5 1233.9,1342.5 1235.2,1342.5C1236.5,1342.5 1237.9,1342.5 1239.2,1342.5C1240.6,1342.6 1241.9,1342.6 1243.2,1342.6C1244.6,1342.6 1245.9,1342.6 1247.2,1342.6C1248.6,1342.6 1249.9,1342.6 1251.2,1342.6C1252.6,1342.6 1253.9,1342.6 1255.3,1342.6C1256.6,1342.6 1257.9,1342.6 1259.3,1342.6C1260.6,1342.6 1261.9,1342.7 1263.3,1342.7C1264.6,1342.7 1266.0,1342.7 1267.3,1342.7C1268.6,1342.7 1270.0,1342.7 1271.3,1342.7C1272.6,1342.7 1274.0,1342.7 1275.3,1342.7C1276.6,1342.7 1278.0,1342.7 1279.3,1342.7C1280.7,1342.7 1282.0,1342.7 1283.3,1342.7C1284.7,1342.7 1286.0,1342.7 1287.3,1342.7C1288.7,1342.8 1290.0,1342.8 1291.3,1342.8C1292.7,1342.8 1294.0,1342.8 1295.4,1342.8C1296.7,1342.8 1298.0,1342.8 1299.4,1342.8C1300.7,1342.8 1302.0,1342.8 1303.4,1342.8C1304.7,1342.8 1306.0,1342.8 1307.4,1342.8C1308.7,1342.8 1310.1,1342.8 1311.4,1342.8C1312.7,1342.8 1314.1,1342.8 1315.4,1342.8C1316.7,1342.8 1318.1,1342.8 1319.4,1342.8C1320.8,1342.9 1322.1,1342.9 1323.4,1342.9C1324.8,1342.9 1326.1,1342.9 1327.4,1342.9C1328.8,1342.9 1330.1,1342.9 1331.4,1342.9C1332.8,1342.9 1334.1,1342.9 1335.5,1342.9C1336.8,1342.9 1338.1,1342.9 1339.5,1342.9C1340.8,1342.9 1342.1,1342.9 1343.5,1342.9C1344.8,1342.9 1346.1,1342.9 1347.5,1342.9C1348.8,1342.9 1350.2,1342.9 1351.5,1342.9C1352.8,1342.9 1354.2,1342.9 1355.5,1342.9C1356.8,1342.9 1358.2,1343.0 1359.5,1343.0C1360.8,1343.0 1362.2,1343.0 1363.5,1343.0C1364.9,1343.0 1366.2,1343.0 1367.5,1343.0C1368.9,1343.0 1370.2,1343.0 1371.5,1343.0C1372.9,1343.0 1374.2,1343.0 1375.6,1343.0C1376.9,1343.0 1378.2,1343.0 1379.6,1343.0C1380.9,1343.0 1382.2,1343.0 1383.6,1343.0C1384.9,1343.0 1386.2,1343.0 1387.6,1343.0C1388.9,1343.0 1390.3,1343.0 1391.6,1343.0C1392.9,1343.0 1394.3,1343.0 1395.6,1343.0C1396.9,1343.0 1398.3,1343.0 1399.6,1343.1C1400.9,1343.1 1402.3,1343.1 1403.6,1343.1C1405.0,1343.1 1406.3,1343.1 1407.6,1343.1C1409.0,1343.1 1410.3,1343.1 1411.6,1343.1C1413.0,1343.1 1414.3,1343.1 1415.6,1343.1C1417.0,1343.1 1418.3,1343.1 1419.7,1343.1C1421.0,1343.1 1422.3,1343.1 1423.7,1343.1C1425.0,1343.1 1426.3,1343.1 1427.7,1343.1C1429.0,1343.1 1430.4,1343.1 1431.7,1343.1C1433.0,1343.1 1434.4,1343.1 1435.7,1343.1C1437.0,1343.2 1438.4,1343.2 1439.7,1343.2C1441.0,1343.2 1442.4,1343.2 1443.7,1343.2C1445.1,1343.2 1446.4,1343.2 1447.7,1343.2C1449.1,1343.2 1450.4,1343.2 1451.7,1343.2C1453.1,1343.2 1454.4,1343.2 1455.7,1343.2C1457.1,1343.2 1458.4,1343.2 1459.8,1343.2C1461.1,1343.2 1462.4,1343.2 1463.8,1343.2C1465.1,1343.2 1466.4,1343.2 1467.8,1343.3C1469.1,1343.3 1470.4,1343.3 1471.8,1343.3C1473.1,1343.3 1474.5,1343.3 1475.8,1343.3C1477.1,1343.3 1478.5,1343.3 1479.8,1343.3C1481.1,1343.3 1482.5,1343.3 1483.8,1343.3C1485.2,1343.3 1486.5,1343.3 1487.8,1343.3C1489.2,1343.3 1490.5,1343.3 1491.8,1343.3C1493.2,1343.3 1494.5,1343.4 1495.8,1343.4C1497.2,1343.4 1498.5,1343.4 1499.9,1343.4C1501.2,1343.4 1502.5,1343.4 1503.9,1343.4C1505.2,1343.4 1506.5,1343.4 1507.9,1343.4C1509.2,1343.4 1510.5,1343.4 1511.9,1343.4C1513.2,1343.4 1514.6,1343.4 1515.9,1343.5C1517.2,1343.5 1518.6,1343.5 1519.9,1343.5C1521.2,1343.5 1522.6,1343.5 1523.9,1343.5C1525.2,1343.5 1526.6,1343.5 1527.9,1343.5C1529.3,1343.5 1530.6,1343.5 1531.9,1343.5C1533.3,1343.5 1534.6,1343.6 1535.9,1343.6C1537.3,1343.6 1538.6,1343.6 1540.0,1343.6C1541.3,1343.6 1542.6,1343.6 1544.0,1343.6C1545.3,1343.6 1546.6,1343.6 1548.0,1343.6C1549.3,1343.6 1550.6,1343.7 1552.0,1343.7C1553.3,1343.7 1554.7,1343.7 1556.0,1343.7C1557.3,1343.7 1559.3,1343.7 1560.0,1343.7" stroke="#538135"/>
<path d="M145.79,813.00C146.5,813.1 148.8,813.5 150.3,813.5C151.7,813.5 153.1,813.4 154.4,813.1C155.8,812.8 157.0,812.4 158.3,811.9C159.5,811.4 160.6,810.8 161.7,810.1C162.9,809.3 163.9,808.5 164.9,807.6C165.9,806.7 166.9,805.8 167.8,804.8C168.8,803.8 169.6,802.7 170.5,801.6C171.4,800.5 172.2,799.4 173.0,798.3C173.8,797.2 174.6,796.1 175.3,794.9C176.1,793.8 176.8,792.6 177.5,791.4C178.2,790.2 178.9,789.0 179.6,787.8C180.2,786.6 180.9,785.4 181.5,784.2C182.1,783.0 182.7,781.7 183.2,780.5C183.8,779.2 184.3,778.0 184.9,776.7C185.4,775.5 185.9,774.2 186.4,772.9C186.9,771.6 187.4,770.3 187.8,769.0C188.3,767.7 188.7,766.4 189.1,765.1C189.5,763.8 189.9,762.5 190.3,761.2C190.7,759.9 191.1,758.5 191.4,757.2C191.8,755.9 192.1,754.6 192.5,753.2C192.8,751.9 193.1,750.6 193.4,749.2C193.7,747.9 194.0,746.6 194.3,745.2C194.6,743.9 194.8,742.5 195.1,741.2C195.4,739.9 195.6,738.5 195.9,737.2C196.1,735.8 196.3,734.5 196.6,733.1C196.8,731.8 197.0,730.4 197.2,729.1C197.4,727.7 197.6,726.4 197.8,725.0C198.0,723.7 198.2,722.3 198.4,721.0C198.5,719.6 198.7,718.3 198.9,716.9C199.1,715.5 199.2,714.2 199.4,712.8C199.5,711.5 199.7,710.1 199.9,708.8C200.0,707.4 200.2,706.0 200.3,704.7C200.5,703.3 200.6,702.0 200.8,700.6C200.9,699.2 201.1,697.9 201.2,696.5C201.3,695.2 201.5,693.8 201.6,692.4C201.8,691.1 201.9,689.7 202.1,688.3C202.2,687.0 202.3,685.6 202.5,684.3C202.6,682.9 202.8,681.5 202.9,680.2C203.0,678.8 203.2,677.4 203.3,676.1C203.5,674.7 203.6,673.4 203.8,672.0C203.9,670.6 204.0,669.3 204.2,667.9C204.3,666.5 204.4,665.2 204.6,663.8C204.7,662.5 204.9,661.1 205.0,659.7C205.1,658.4 205.3,657.0 205.4,655.6C205.6,654.3 205.7,652.9 205.8,651.5C206.0,650.2 206.1,648.8 206.2,647.5C206.4,646.1 206.5,644.7 206.6,643.4C206.8,642.0 206.9,640.6 207.0,639.3C207.2,637.9 207.3,636.6 207.5,635.2C207.6,633.8 207.7,632.5 207.9,631.1C208.0,629.7 208.2,628.4 208.3,627.0C208.4,625.7 208.6,624.3 208.7,622.9C208.9,621.6 209.0,620.2 209.2,618.9C209.4,617.5 209.5,616.1 209.7,614.8C209.8,613.4 210.0,612.1 210.2,610.7C210.3,609.4 210.5,608.0 210.7,606.6C210.9,605.3 211.0,603.9 211.2,602.6C211.4,601.2 211.6,599.9 211.8,598.5C212.0,597.2 212.2,595.8 212.4,594.4C212.6,593.1 212.8,591.7 213.0,590.4C213.3,589.0 213.5,587.7 213.7,586.3C213.9,585.0 214.3,583.0 214.4,582.3C214.8,582.9 215.2,584.9 215.4,586.2C215.7,587.5 215.9,588.8 216.1,590.2C216.3,591.5 216.6,592.8 216.8,594.1C217.0,595.4 217.2,596.8 217.4,598.1C217.6,599.4 217.8,600.7 217.9,602.1C218.1,603.4 218.3,604.7 218.5,606.0C218.6,607.4 218.8,608.7 219.0,610.0C219.1,611.3 219.3,612.7 219.4,614.0C219.6,615.3 219.7,616.6 219.9,618.0C220.0,619.3 220.1,620.6 220.2,622.0C220.4,623.3 220.5,624.6 220.6,625.9C220.7,627.3 220.8,628.6 220.9,629.9C221.1,631.3 221.2,632.6 221.3,633.9C221.4,635.3 221.5,636.6 221.5,637.9C221.6,639.3 221.7,640.6 221.8,641.9C221.9,643.3 222.0,644.6 222.1,645.9C222.2,647.3 222.2,648.6 222.3,649.9C222.4,651.3 222.5,652.6 222.5,653.9C222.6,655.3 222.7,656.6 222.7,657.9C222.8,659.3 222.9,660.6 222.9,662.0C223.0,663.3 223.1,664.6 223.1,666.0C223.2,667.3 223.2,668.6 223.3,670.0C223.4,671.3 223.4,672.6 223.5,674.0C223.5,675.3 223.6,676.7 223.7,678.0C223.7,679.3 223.8,680.7 223.8,682.0C223.9,683.3 224.0,684.7 224.0,686.0C224.1,687.3 224.1,688.7 224.2,690.0C224.3,691.4 224.3,692.7 224.4,694.0C224.4,695.4 224.5,696.7 224.6,698.0C224.6,699.4 224.7,700.7 224.8,702.0C224.8,703.4 224.9,704.7 224.9,706.0C225.0,707.4 225.1,708.7 225.1,710.1C225.2,711.4 225.3,712.7 225.3,714.1C225.4,715.4 225.5,716.7 225.5,718.1C225.6,719.4 225.7,720.7 225.7,722.1C225.8,723.4 225.9,724.7 225.9,726.1C226.0,727.4 226.1,728.8 226.2,730.1C226.2,731.4 226.3,732.8 226.4,734.1C226.4,735.4 226.5,736.8 226.6,738.1C226.7,739.4 226.7,740.8 226.8,742.1C226.9,743.4 227.0,744.8 227.1,746.1C227.1,747.4 227.2,748.8 227.3,750.1C227.4,751.4 227.4,752.8 227.5,754.1C227.6,755.5 227.7,756.8 227.8,758.1C227.9,759.5 227.9,760.8 228.0,762.1C228.1,763.5 228.2,764.8 228.3,766.1C228.4,767.5 228.5,768.8 228.6,770.1C228.7,771.5 228.7,772.8 228.8,774.1C228.9,775.5 229.0,776.8 229.1,778.1C229.2,779.5 229.3,780.8 229.4,782.1C229.5,783.5 229.6,784.8 229.7,786.1C229.8,787.5 229.9,788.8 230.0,790.1C230.1,791.5 230.2,792.8 230.3,794.1C230.4,795.5 230.5,796.8 230.6,798.1C230.8,799.4 230.9,800.8 231.0,802.1C231.1,803.4 231.2,804.8 231.3,806.1C231.4,807.4 231.6,808.8 231.7,810.1C231.8,811.4 231.9,812.8 232.0,814.1C232.2,815.4 232.3,816.8 232.4,818.1C232.5,819.4 232.7,820.7 232.8,822.1C232.9,823.4 233.0,824.7 233.2,826.1C233.3,827.4 233.4,828.7 233.6,830.1C233.7,831.4 233.8,832.7 234.0,834.0C234.1,835.4 234.3,836.7 234.4,838.0C234.5,839.4 234.7,840.7 234.8,842.0C235.0,843.4 235.1,844.7 235.3,846.0C235.4,847.3 235.6,848.7 235.7,850.0C235.9,851.3 236.1,852.7 236.2,854.0C236.4,855.3 236.5,856.6 236.7,858.0C236.9,859.3 237.0,860.6 237.2,861.9C237.4,863.3 237.5,864.6 237.7,865.9C237.9,867.2 238.1,868.6 238.3,869.9C238.4,871.2 238.6,872.5 238.8,873.9C239.0,875.2 239.2,876.5 239.4,877.8C239.6,879.2 239.8,880.5 240.0,881.8C240.2,883.1 240.4,884.4 240.6,885.8C240.8,887.1 241.0,888.4 241.3,889.7C241.5,891.0 241.7,892.4 241.9,893.7C242.2,895.0 242.4,896.3 242.6,897.6C242.9,898.9 243.1,900.3 243.4,901.6C243.6,902.9 243.9,904.2 244.1,905.5C244.4,906.8 244.6,908.1 244.9,909.4C245.2,910.7 245.4,912.1 245.7,913.4C246.0,914.7 246.3,916.0 246.6,917.3C246.9,918.6 247.2,919.9 247.5,921.2C247.8,922.5 248.1,923.8 248.4,925.1C248.7,926.4 249.0,927.7 249.4,929.0C249.7,930.3 250.1,931.6 250.4,932.8C250.8,934.1 251.1,935.4 251.5,936.7C251.9,938.0 252.3,939.3 252.7,940.5C253.1,941.8 253.5,943.1 253.9,944.3C254.4,945.6 254.8,946.9 255.3,948.1C255.7,949.4 256.2,950.6 256.7,951.9C257.1,953.1 257.6,954.4 258.2,955.6C258.7,956.9 259.2,958.1 259.7,959.3C260.3,960.5 260.9,961.8 261.4,963.0C262.0,964.2 262.6,965.4 263.2,966.6C263.9,967.8 264.5,969.0 265.2,970.1C265.8,971.3 266.5,972.5 267.2,973.6C268.0,974.8 268.7,975.9 269.5,977.0C270.2,978.0 271.0,979.1 271.9,980.1C272.7,981.2 273.6,982.2 274.5,983.1C275.4,984.1 276.4,985.0 277.4,985.8C278.4,986.7 279.4,987.5 280.5,988.3C281.5,989.1 282.6,989.9 283.8,990.6C284.9,991.3 286.0,992.0 287.2,992.7C288.4,993.3 289.6,994.0 290.8,994.6C292.0,995.2 293.2,995.8 294.4,996.3C295.6,996.9 296.9,997.4 298.1,997.9C299.4,998.5 300.6,999.0 301.9,999.5C303.1,1000.0 304.4,1000.4 305.6,1000.9C306.9,1001.4 308.1,1001.9 309.4,1002.3C310.6,1002.8 311.9,1003.3 313.1,1003.8C314.4,1004.3 315.6,1004.7 316.8,1005.2C318.1,1005.7 319.3,1006.2 320.5,1006.8C321.7,1007.3 323.0,1007.8 324.2,1008.4C325.4,1008.9 326.6,1009.5 327.8,1010.1C329.0,1010.7 330.2,1011.4 331.4,1012.0C332.6,1012.6 333.7,1013.2 334.9,1013.8C336.2,1014.4 337.4,1014.9 338.6,1015.5C339.8,1016.0 341.1,1016.4 342.3,1016.8C343.6,1017.2 344.9,1017.6 346.2,1017.9C347.5,1018.2 348.8,1018.5 350.1,1018.8C351.4,1019.0 352.7,1019.2 354.1,1019.5C355.4,1019.7 356.7,1019.9 358.1,1020.1C359.4,1020.3 360.7,1020.5 362.0,1020.8C363.4,1021.0 364.7,1021.2 366.0,1021.5C367.3,1021.8 368.6,1022.1 369.9,1022.5C371.1,1022.9 372.4,1023.3 373.6,1023.8C374.9,1024.2 376.1,1024.7 377.3,1025.3C378.4,1025.9 379.6,1026.5 380.7,1027.2C381.8,1027.9 382.9,1028.6 384.0,1029.4C385.1,1030.2 386.1,1031.1 387.1,1032.0C388.1,1032.8 389.1,1033.7 390.1,1034.6C391.1,1035.6 392.0,1036.5 393.0,1037.4C393.9,1038.4 394.8,1039.4 395.8,1040.3C396.7,1041.3 397.6,1042.3 398.5,1043.3C399.5,1044.3 400.4,1045.3 401.3,1046.3C402.2,1047.3 403.1,1048.2 404.0,1049.2C404.9,1050.2 405.9,1051.2 406.8,1052.2C407.7,1053.1 408.7,1054.1 409.6,1055.0C410.6,1055.9 411.6,1056.9 412.5,1057.7C413.5,1058.6 414.5,1059.5 415.6,1060.4C416.6,1061.2 417.6,1062.0 418.7,1062.8C419.8,1063.6 420.9,1064.3 422.0,1065.0C423.1,1065.8 424.2,1066.5 425.4,1067.1C426.6,1067.8 427.7,1068.4 428.9,1069.0C430.1,1069.6 431.3,1070.2 432.5,1070.8C433.8,1071.4 435.0,1071.9 436.2,1072.4C437.5,1072.9 438.7,1073.5 440.0,1073.9C441.2,1074.4 442.5,1074.9 443.8,1075.3C445.0,1075.8 446.3,1076.2 447.6,1076.7C448.9,1077.1 450.1,1077.5 451.4,1077.9C452.7,1078.3 454.0,1078.7 455.3,1079.1C456.6,1079.4 457.8,1079.8 459.1,1080.2C460.4,1080.5 461.7,1080.9 463.0,1081.2C464.3,1081.5 465.6,1081.9 466.9,1082.2C468.2,1082.5 469.5,1082.8 470.8,1083.1C472.1,1083.4 473.4,1083.7 474.7,1084.0C476.0,1084.3 477.3,1084.6 478.6,1084.9C479.9,1085.1 481.2,1085.4 482.5,1085.7C483.8,1086.0 485.1,1086.2 486.4,1086.5C487.7,1086.8 489.0,1087.0 490.3,1087.3C491.6,1087.5 493.0,1087.8 494.3,1088.0C495.6,1088.3 496.9,1088.5 498.2,1088.8C499.5,1089.1 500.8,1089.3 502.1,1089.5C503.5,1089.8 504.8,1090.0 506.1,1090.3C507.4,1090.5 508.7,1090.8 510.0,1091.0C511.4,1091.2 512.7,1091.5 514.0,1091.7C515.3,1091.9 516.6,1092.2 517.9,1092.4C519.3,1092.6 520.6,1092.9 521.9,1093.1C523.2,1093.3 524.5,1093.5 525.9,1093.7C527.2,1094.0 528.5,1094.2 529.8,1094.4C531.1,1094.6 532.5,1094.8 533.8,1095.0C535.1,1095.2 536.4,1095.4 537.8,1095.6C539.1,1095.8 540.4,1096.0 541.7,1096.2C543.0,1096.4 544.4,1096.6 545.7,1096.8C547.0,1097.0 548.3,1097.2 549.7,1097.4C551.0,1097.5 552.3,1097.7 553.7,1097.9C555.0,1098.1 556.3,1098.2 557.6,1098.4C559.0,1098.6 560.3,1098.7 561.6,1098.9C562.9,1099.1 564.3,1099.2 565.6,1099.4C566.9,1099.5 568.3,1099.7 569.6,1099.8C570.9,1100.0 572.2,1100.1 573.6,1100.3C574.9,1100.4 576.2,1100.5 577.6,1100.7C578.9,1100.8 580.2,1100.9 581.6,1101.1C582.9,1101.2 584.2,1101.3 585.5,1101.4C586.9,1101.5 588.2,1101.7 589.5,1101.8C590.9,1101.9 592.2,1102.0 593.5,1102.1C594.9,1102.2 596.2,1102.3 597.5,1102.4C598.9,1102.5 600.2,1102.6 601.5,1102.7C602.9,1102.8 604.2,1102.9 605.5,1103.0C606.9,1103.1 608.2,1103.1 609.5,1103.2C610.9,1103.3 612.2,1103.4 613.5,1103.5C614.9,1103.5 616.2,1103.6 617.5,1103.7C618.9,1103.8 620.2,1103.8 621.5,1103.9C622.9,1104.0 624.2,1104.0 625.5,1104.1C626.9,1104.2 628.2,1104.2 629.5,1104.3C630.9,1104.3 632.2,1104.4 633.5,1104.4C634.9,1104.5 636.2,1104.6 637.6,1104.6C638.9,1104.7 640.2,1104.7 641.6,1104.8C642.9,1104.8 644.2,1104.8 645.6,1104.9C646.9,1104.9 648.2,1105.0 649.6,1105.0C650.9,1105.1 652.2,1105.1 653.6,1105.1C654.9,1105.2 656.3,1105.2 657.6,1105.2C658.9,1105.3 660.3,1105.3 661.6,1105.4C662.9,1105.4 664.3,1105.4 665.6,1105.4C667.0,1105.5 668.3,1105.5 669.6,1105.5C671.0,1105.6 672.3,1105.6 673.6,1105.6C675.0,1105.6 676.3,1105.7 677.7,1105.7C679.0,1105.7 680.3,1105.7 681.7,1105.8C683.0,1105.8 684.3,1105.8 685.7,1105.8C687.0,1105.9 688.4,1105.9 689.7,1105.9C691.0,1105.9 692.4,1105.9 693.7,1106.0C695.0,1106.0 696.4,1106.0 697.7,1106.0C699.1,1106.1 700.4,1106.1 701.7,1106.1C703.1,1106.1 704.4,1106.1 705.7,1106.2C707.1,1106.2 708.4,1106.2 709.8,1106.2C711.1,1106.2 712.4,1106.3 713.8,1106.3C715.1,1106.3 716.4,1106.3 717.8,1106.4C719.1,1106.4 720.5,1106.4 721.8,1106.4C723.1,1106.4 724.5,1106.5 725.8,1106.5C727.1,1106.5 728.5,1106.5 729.8,1106.6C731.2,1106.6 732.5,1106.6 733.8,1106.6C735.2,1106.7 736.5,1106.7 737.8,1106.7C739.2,1106.7 740.5,1106.8 741.9,1106.8C743.2,1106.8 744.5,1106.9 745.9,1106.9C747.2,1106.9 748.5,1106.9 749.9,1107.0C751.2,1107.0 752.5,1107.0 753.9,1107.1C755.2,1107.1 756.6,1107.1 757.9,1107.2C759.2,1107.2 760.6,1107.2 761.9,1107.2C763.2,1107.3 764.6,1107.3 765.9,1107.3C767.2,1107.4 768.6,1107.4 769.9,1107.4C771.3,1107.5 772.6,1107.5 773.9,1107.5C775.3,1107.6 776.6,1107.6 777.9,1107.6C779.3,1107.7 780.6,1107.7 782.0,1107.7C783.3,1107.8 784.6,1107.8 786.0,1107.8C787.3,1107.9 788.6,1107.9 790.0,1107.9C791.3,1108.0 792.6,1108.0 794.0,1108.0C795.3,1108.1 796.7,1108.1 798.0,1108.1C799.3,1108.2 800.7,1108.2 802.0,1108.2C803.3,1108.3 804.7,1108.3 806.0,1108.3C807.3,1108.4 808.7,1108.4 810.0,1108.4C811.3,1108.5 812.7,1108.5 814.0,1108.5C815.4,1108.6 816.7,1108.6 818.0,1108.6C819.4,1108.7 820.7,1108.7 822.0,1108.7C823.4,1108.8 824.7,1108.8 826.0,1108.8C827.4,1108.9 828.7,1108.9 830.1,1108.9C831.4,1109.0 832.7,1109.0 834.1,1109.0C835.4,1109.1 836.7,1109.1 838.1,1109.1C839.4,1109.2 840.7,1109.2 842.1,1109.2C843.4,1109.3 844.8,1109.3 846.1,1109.3C847.4,1109.4 848.8,1109.4 850.1,1109.4C851.4,1109.5 852.8,1109.5 854.1,1109.5C855.4,1109.5 856.8,1109.6 858.1,1109.6C859.5,1109.6 860.8,1109.7 862.1,1109.7C863.5,1109.7 864.8,1109.8 866.1,1109.8C867.5,1109.8 868.8,1109.9 870.1,1109.9C871.5,1109.9 872.8,1109.9 874.2,1110.0C875.5,1110.0 876.8,1110.0 878.2,1110.1C879.5,1110.1 880.8,1110.1 882.2,1110.1C883.5,1110.2 884.8,1110.2 886.2,1110.2C887.5,1110.3 888.9,1110.3 890.2,1110.3C891.5,1110.3 892.9,1110.4 894.2,1110.4C895.5,1110.4 896.9,1110.4 898.2,1110.5C899.5,1110.5 900.9,1110.5 902.2,1110.6C903.6,1110.6 904.9,1110.6 906.2,1110.6C907.6,1110.7 908.9,1110.7 910.2,1110.7C911.6,1110.7 912.9,1110.8 914.2,1110.8C915.6,1110.8 916.9,1110.8 918.3,1110.9C919.6,1110.9 920.9,1110.9 922.3,1110.9C923.6,1111.0 924.9,1111.0 926.3,1111.0C927.6,1111.0 928.9,1111.1 930.3,1111.1C931.6,1111.1 933.0,1111.1 934.3,1111.2C935.6,1111.2 937.0,1111.2 938.3,1111.2C939.6,1111.2 941.0,1111.3 942.3,1111.3C943.7,1111.3 945.0,1111.3 946.3,1111.4C947.7,1111.4 949.0,1111.4 950.3,1111.4C951.7,1111.4 953.0,1111.5 954.3,1111.5C955.7,1111.5 957.0,1111.5 958.4,1111.6C959.7,1111.6 961.0,1111.6 962.4,1111.6C963.7,1111.6 965.0,1111.7 966.4,1111.7C967.7,1111.7 969.0,1111.7 970.4,1111.7C971.7,1111.8 973.1,1111.8 974.4,1111.8C975.7,1111.8 977.1,1111.8 978.4,1111.9C979.7,1111.9 981.1,1111.9 982.4,1111.9C983.8,1111.9 985.1,1112.0 986.4,1112.0C987.8,1112.0 989.1,1112.0 990.4,1112.0C991.8,1112.1 993.1,1112.1 994.4,1112.1C995.8,1112.1 997.1,1112.1 998.5,1112.1C999.8,1112.2 1001.1,1112.2 1002.5,1112.2C1003.8,1112.2 1005.1,1112.2 1006.5,1112.3C1007.8,1112.3 1009.2,1112.3 1010.5,1112.3C1011.8,1112.3 1013.2,1112.3 1014.5,1112.4C1015.8,1112.4 1017.2,1112.4 1018.5,1112.4C1019.8,1112.4 1021.2,1112.4 1022.5,1112.5C1023.9,1112.5 1025.2,1112.5 1026.5,1112.5C1027.9,1112.5 1029.2,1112.5 1030.5,1112.6C1031.9,1112.6 1033.2,1112.6 1034.6,1112.6C1035.9,1112.6 1037.2,1112.6 1038.6,1112.6C1039.9,1112.7 1041.2,1112.7 1042.6,1112.7C1043.9,1112.7 1045.2,1112.7 1046.6,1112.7C1047.9,1112.8 1049.3,1112.8 1050.6,1112.8C1051.9,1112.8 1053.3,1112.8 1054.6,1112.8C1055.9,1112.8 1057.3,1112.9 1058.6,1112.9C1060.0,1112.9 1061.3,1112.9 1062.6,1112.9C1064.0,1112.9 1065.3,1112.9 1066.6,1112.9C1068.0,1113.0 1069.3,1113.0 1070.6,1113.0C1072.0,1113.0 1073.3,1113.0 1074.7,1113.0C1076.0,1113.0 1077.3,1113.1 1078.7,1113.1C1080.0,1113.1 1081.3,1113.1 1082.7,1113.1C1084.0,1113.1 1085.4,1113.1 1086.7,1113.1C1088.0,1113.2 1089.4,1113.2 1090.7,1113.2C1092.0,1113.2 1093.4,1113.2 1094.7,1113.2C1096.1,1113.2 1097.4,1113.2 1098.7,1113.3C1100.1,1113.3 1101.4,1113.3 1102.7,1113.3C1104.1,1113.3 1105.4,1113.3 1106.7,1113.3C1108.1,1113.3 1109.4,1113.3 1110.8,1113.4C1112.1,1113.4 1113.4,1113.4 1114.8,1113.4C1116.1,1113.4 1117.4,1113.4 1118.8,1113.4C1120.1,1113.4 1121.5,1113.4 1122.8,1113.5C1124.1,1113.5 1125.5,1113.5 1126.8,1113.5C1128.1,1113.5 1129.5,1113.5 1130.8,1113.5C1132.2,1113.5 1133.5,1113.5 1134.8,1113.5C1136.2,1113.6 1137.5,1113.6 1138.8,1113.6C1140.2,1113.6 1141.5,1113.6 1142.8,1113.6C1144.2,1113.6 1145.5,1113.6 1146.9,1113.6C1148.2,1113.6 1149.5,1113.7 1150.9,1113.7C1152.2,1113.7 1153.5,1113.7 1154.9,1113.7C1156.2,1113.7 1157.6,1113.7 1158.9,1113.7C1160.2,1113.7 1161.6,1113.7 1162.9,1113.7C1164.2,1113.8 1165.6,1113.8 1166.9,1113.8C1168.3,1113.8 1169.6,1113.8 1170.9,1113.8C1172.3,1113.8 1173.6,1113.8 1174.9,1113.8C1176.3,1113.8 1177.6,1113.8 1179.0,1113.8C1180.3,1113.9 1181.6,1113.9 1183.0,1113.9C1184.3,1113.9 1185.6,1113.9 1187.0,1113.9C1188.3,1113.9 1189.6,1113.9 1191.0,1113.9C1192.3,1113.9 1193.7,1113.9 1195.0,1113.9C1196.3,1114.0 1197.7,1114.0 1199.0,1114.0C1200.3,1114.0 1201.7,1114.0 1203.0,1114.0C1204.4,1114.0 1205.7,1114.0 1207.0,1114.0C1208.4,1114.0 1209.7,1114.0 1211.0,1114.0C1212.4,1114.0 1213.7,1114.1 1215.1,1114.1C1216.4,1114.1 1217.7,1114.1 1219.1,1114.1C1220.4,1114.1 1221.7,1114.1 1223.1,1114.1C1224.4,1114.1 1225.8,1114.1 1227.1,1114.1C1228.4,1114.1 1229.8,1114.1 1231.1,1114.1C1232.4,1114.1 1233.8,1114.2 1235.1,1114.2C1236.4,1114.2 1237.8,1114.2 1239.1,1114.2C1240.5,1114.2 1241.8,1114.2 1243.1,1114.2C1244.5,1114.2 1245.8,1114.2 1247.1,1114.2C1248.5,1114.2 1249.8,1114.2 1251.2,1114.2C1252.5,1114.2 1253.8,1114.3 1255.2,1114.3C1256.5,1114.3 1257.8,1114.3 1259.2,1114.3C1260.5,1114.3 1261.9,1114.3 1263.2,1114.3C1264.5,1114.3 1265.9,1114.3 1267.2,1114.3C1268.5,1114.3 1269.9,1114.3 1271.2,1114.3C1272.6,1114.3 1273.9,1114.3 1275.2,1114.4C1276.6,1114.4 1277.9,1114.4 1279.2,1114.4C1280.6,1114.4 1281.9,1114.4 1283.2,1114.4C1284.6,1114.4 1285.9,1114.4 1287.3,1114.4C1288.6,1114.4 1289.9,1114.4 1291.3,1114.4C1292.6,1114.4 1293.9,1114.4 1295.3,1114.4C1296.6,1114.4 1298.0,1114.5 1299.3,1114.5C1300.6,1114.5 1302.0,1114.5 1303.3,1114.5C1304.6,1114.5 1306.0,1114.5 1307.3,1114.5C1308.7,1114.5 1310.0,1114.5 1311.3,1114.5C1312.7,1114.5 1314.0,1114.5 1315.3,1114.5C1316.7,1114.5 1318.0,1114.5 1319.3,1114.5C1320.7,1114.6 1322.0,1114.6 1323.4,1114.6C1324.7,1114.6 1326.0,1114.6 1327.4,1114.6C1328.7,1114.6 1330.0,1114.6 1331.4,1114.6C1332.7,1114.6 1334.1,1114.6 1335.4,1114.6C1336.7,1114.6 1338.1,1114.6 1339.4,1114.6C1340.7,1114.6 1342.1,1114.6 1343.4,1114.7C1344.8,1114.7 1346.1,1114.7 1347.4,1114.7C1348.8,1114.7 1350.1,1114.7 1351.4,1114.7C1352.8,1114.7 1354.1,1114.7 1355.5,1114.7C1356.8,1114.7 1358.1,1114.7 1359.5,1114.7C1360.8,1114.7 1362.1,1114.7 1363.5,1114.7C1364.8,1114.7 1366.1,1114.7 1367.5,1114.8C1368.8,1114.8 1370.2,1114.8 1371.5,1114.8C1372.8,1114.8 1374.2,1114.8 1375.5,1114.8C1376.8,1114.8 1378.2,1114.8 1379.5,1114.8C1380.9,1114.8 1382.2,1114.8 1383.5,1114.8C1384.9,1114.8 1386.2,1114.8 1387.5,1114.8C1388.9,1114.8 1390.2,1114.9 1391.6,1114.9C1392.9,1114.9 1394.2,1114.9 1395.6,1114.9C1396.9,1114.9 1398.2,1114.9 1399.6,1114.9C1400.9,1114.9 1402.2,1114.9 1403.6,1114.9C1404.9,1114.9 1406.3,1114.9 1407.6,1114.9C1408.9,1114.9 1410.3,1114.9 1411.6,1115.0C1412.9,1115.0 1414.3,1115.0 1415.6,1115.0C1417.0,1115.0 1418.3,1115.0 1419.6,1115.0C1421.0,1115.0 1422.3,1115.0 1423.6,1115.0C1425.0,1115.0 1426.3,1115.0 1427.7,1115.0C1429.0,1115.0 1430.3,1115.0 1431.7,1115.1C1433.0,1115.1 1434.3,1115.1 1435.7,1115.1C1437.0,1115.1 1438.3,1115.1 1439.7,1115.1C1441.0,1115.1 1442.4,1115.1 1443.7,1115.1C1445.0,1115.1 1446.4,1115.1 1447.7,1115.1C1449.0,1115.1 1450.4,1115.2 1451.7,1115.2C1453.1,1115.2 1454.4,1115.2 1455.7,1115.2C1457.1,1115.2 1458.4,1115.2 1459.7,1115.2C1461.1,1115.2 1462.4,1115.2 1463.7,1115.2C1465.1,1115.2 1466.4,1115.2 1467.8,1115.3C1469.1,1115.3 1470.4,1115.3 1471.8,1115.3C1473.1,1115.3 1474.4,1115.3 1475.8,1115.3C1477.1,1115.3 1478.5,1115.3 1479.8,1115.3C1481.1,1115.3 1482.5,1115.3 1483.8,1115.3C1485.1,1115.4 1486.5,1115.4 1487.8,1115.4C1489.1,1115.4 1490.5,1115.4 1491.8,1115.4C1493.2,1115.4 1494.5,1115.4 1495.8,1115.4C1497.2,1115.4 1498.5,1115.4 1499.8,1115.5C1501.2,1115.5 1502.5,1115.5 1503.9,1115.5C1505.2,1115.5 1506.5,1115.5 1507.9,1115.5C1509.2,1115.5 1510.5,1115.5 1511.9,1115.5C1513.2,1115.5 1514.5,1115.6 1515.9,1115.6C1517.2,1115.6 1518.6,1115.6 1519.9,1115.6C1521.2,1115.6 1522.6,1115.6 1523.9,1115.6C1525.2,1115.6 1526.6,1115.6 1527.9,1115.7C1529.2,1115.7 1530.6,1115.7 1531.9,1115.7C1533.3,1115.7 1534.6,1115.7 1535.9,1115.7C1537.3,1115.7 1538.6,1115.7 1539.9,1115.7C1541.3,1115.8 1542.6,1115.8 1544.0,1115.8C1545.3,1115.8 1546.6,1115.8 1548.0,1115.8C1549.3,1115.8 1550.6,1115.8 1552.0,1115.8C1553.3,1115.9 1554.6,1115.9 1556.0,1115.9C1557.3,1115.9 1559.3,1115.9 1560.0,1115.9" stroke="#9BBB59"/>
<path d="M145.93,668.17C146.6,668.2 148.8,668.3 150.2,668.1C151.5,668.0 152.9,667.7 154.1,667.3C155.4,666.9 156.7,666.3 157.9,665.7C159.0,665.1 160.2,664.4 161.3,663.6C162.4,662.9 163.4,662.0 164.5,661.1C165.5,660.2 166.4,659.2 167.4,658.2C168.3,657.2 169.2,656.1 170.1,655.0C170.9,653.9 171.8,652.8 172.5,651.7C173.3,650.6 174.1,649.4 174.8,648.3C175.6,647.1 176.3,646.0 177.0,644.8C177.6,643.6 178.3,642.4 178.9,641.2C179.6,640.0 180.2,638.8 180.8,637.6C181.4,636.3 182.0,635.1 182.6,633.9C183.2,632.6 183.7,631.4 184.3,630.2C184.9,628.9 185.4,627.7 186.0,626.4C186.5,625.2 187.1,623.9 187.6,622.6C188.1,621.4 188.5,620.1 189.0,618.8C189.5,617.5 189.9,616.2 190.3,614.9C190.7,613.6 191.1,612.3 191.5,611.0C191.9,609.7 192.3,608.4 192.6,607.1C193.0,605.8 193.3,604.4 193.7,603.1C194.0,601.8 194.3,600.5 194.6,599.1C194.9,597.8 195.2,596.5 195.5,595.1C195.8,593.8 196.1,592.5 196.4,591.1C196.6,589.8 196.9,588.4 197.2,587.1C197.4,585.7 197.7,584.4 197.9,583.1C198.2,581.7 198.4,580.4 198.6,579.0C198.9,577.7 199.1,576.3 199.3,575.0C199.6,573.6 199.8,572.3 200.0,570.9C200.3,569.6 200.5,568.2 200.7,566.9C200.9,565.5 201.2,564.2 201.4,562.8C201.6,561.5 201.8,560.1 202.1,558.8C202.3,557.4 202.5,556.1 202.7,554.7C202.9,553.4 203.2,552.0 203.4,550.7C203.6,549.3 203.8,548.0 204.0,546.6C204.2,545.3 204.5,543.9 204.7,542.6C204.9,541.2 205.1,539.9 205.3,538.5C205.5,537.2 205.7,535.8 205.9,534.5C206.1,533.1 206.2,531.8 206.4,530.4C206.6,529.1 206.8,527.7 207.0,526.4C207.1,525.0 207.3,523.7 207.5,522.3C207.6,521.0 207.8,519.6 208.0,518.2C208.1,516.9 208.2,515.5 208.4,514.2C208.5,512.8 208.7,511.4 208.8,510.1C209.0,508.7 209.1,507.3 209.2,506.0C209.4,504.6 209.5,503.2 209.6,501.9C209.8,500.5 209.9,499.2 210.0,497.8C210.2,496.4 210.3,495.1 210.5,493.7C210.6,492.4 210.8,491.0 210.9,489.6C211.1,488.3 211.3,486.9 211.4,485.6C211.6,484.2 211.8,482.9 212.0,481.5C212.2,480.1 212.4,478.8 212.6,477.5C212.8,476.1 213.0,474.8 213.3,473.4C213.5,472.1 213.8,470.7 214.1,469.4C214.3,468.1 214.6,466.7 214.9,465.4C215.2,464.1 215.5,462.7 215.9,461.4C216.2,460.1 216.6,458.8 216.9,457.5C217.3,456.2 217.9,454.2 218.1,453.5C218.6,454.2 219.3,456.1 219.7,457.4C220.1,458.7 220.5,459.9 220.8,461.2C221.2,462.5 221.5,463.8 221.8,465.1C222.1,466.4 222.4,467.7 222.7,469.0C222.9,470.3 223.2,471.6 223.4,472.9C223.6,474.3 223.8,475.6 224.0,476.9C224.2,478.2 224.4,479.5 224.5,480.9C224.7,482.2 224.8,483.5 225.0,484.8C225.1,486.2 225.2,487.5 225.3,488.8C225.4,490.2 225.5,491.5 225.7,492.8C225.8,494.2 225.9,495.5 226.0,496.8C226.0,498.2 226.1,499.5 226.2,500.9C226.3,502.2 226.4,503.5 226.5,504.9C226.6,506.2 226.7,507.5 226.8,508.9C226.9,510.2 227.0,511.5 227.1,512.9C227.2,514.2 227.4,515.5 227.5,516.9C227.6,518.2 227.7,519.5 227.8,520.9C227.9,522.2 228.0,523.5 228.1,524.9C228.3,526.2 228.4,527.5 228.5,528.9C228.6,530.2 228.7,531.5 228.9,532.9C229.0,534.2 229.1,535.5 229.2,536.9C229.3,538.2 229.5,539.5 229.6,540.8C229.7,542.2 229.9,543.5 230.0,544.8C230.1,546.2 230.2,547.5 230.4,548.8C230.5,550.2 230.6,551.5 230.7,552.8C230.9,554.1 231.0,555.5 231.1,556.8C231.3,558.1 231.4,559.5 231.5,560.8C231.7,562.1 231.8,563.5 231.9,564.8C232.0,566.1 232.2,567.4 232.3,568.8C232.4,570.1 232.6,571.4 232.7,572.8C232.8,574.1 232.9,575.4 233.1,576.8C233.2,578.1 233.3,579.4 233.5,580.7C233.6,582.1 233.7,583.4 233.8,584.7C234.0,586.1 234.1,587.4 234.2,588.7C234.4,590.1 234.5,591.4 234.6,592.7C234.8,594.0 234.9,595.4 235.0,596.7C235.2,598.0 235.3,599.4 235.5,600.7C235.6,602.0 235.7,603.4 235.9,604.7C236.0,606.0 236.2,607.3 236.3,608.7C236.4,610.0 236.6,611.3 236.7,612.7C236.9,614.0 237.0,615.3 237.2,616.6C237.3,618.0 237.5,619.3 237.7,620.6C237.8,621.9 238.0,623.3 238.1,624.6C238.3,625.9 238.5,627.3 238.6,628.6C238.8,629.9 239.0,631.2 239.1,632.6C239.3,633.9 239.5,635.2 239.7,636.5C239.8,637.9 240.0,639.2 240.2,640.5C240.4,641.8 240.6,643.2 240.8,644.5C241.0,645.8 241.2,647.1 241.4,648.4C241.6,649.8 241.8,651.1 242.0,652.4C242.2,653.7 242.4,655.0 242.6,656.4C242.8,657.7 243.1,659.0 243.3,660.3C243.5,661.6 243.7,663.0 244.0,664.3C244.2,665.6 244.4,666.9 244.7,668.2C244.9,669.5 245.2,670.9 245.4,672.2C245.7,673.5 245.9,674.8 246.2,676.1C246.4,677.4 246.7,678.7 247.0,680.1C247.3,681.4 247.5,682.7 247.8,684.0C248.1,685.3 248.4,686.6 248.6,687.9C248.9,689.2 249.2,690.5 249.5,691.8C249.8,693.1 250.1,694.5 250.4,695.8C250.7,697.1 251.0,698.4 251.3,699.7C251.6,701.0 251.8,702.3 252.1,703.6C252.4,704.9 252.7,706.2 253.0,707.5C253.3,708.7 253.6,710.0 253.9,711.3C254.2,712.6 254.5,713.9 254.8,715.2C255.1,716.5 255.5,717.8 255.8,719.1C256.1,720.4 256.5,721.6 256.8,722.9C257.2,724.2 257.5,725.5 257.9,726.8C258.3,728.0 258.7,729.3 259.1,730.6C259.6,731.9 260.0,733.1 260.5,734.4C261.0,735.7 261.5,736.9 262.0,738.2C262.5,739.5 263.1,740.7 263.6,742.0C264.2,743.2 264.8,744.5 265.5,745.7C266.1,746.9 266.8,748.0 267.6,749.2C268.3,750.3 269.1,751.4 269.9,752.5C270.7,753.5 271.6,754.5 272.5,755.4C273.4,756.4 274.4,757.2 275.4,758.0C276.4,758.8 277.5,759.5 278.6,760.2C279.7,760.8 280.9,761.4 282.1,762.0C283.3,762.5 284.5,763.0 285.8,763.5C287.1,763.9 288.4,764.3 289.7,764.7C291.0,765.1 292.3,765.4 293.6,765.7C294.9,766.0 296.3,766.3 297.6,766.6C298.9,766.9 300.2,767.2 301.6,767.4C302.9,767.7 304.2,768.0 305.5,768.2C306.9,768.5 308.2,768.7 309.5,768.9C310.8,769.2 312.1,769.4 313.4,769.6C314.8,769.8 316.1,770.0 317.4,770.2C318.7,770.4 320.0,770.6 321.3,770.8C322.6,771.0 324.0,771.2 325.3,771.4C326.6,771.6 327.9,771.8 329.2,772.0C330.5,772.2 331.8,772.4 333.2,772.5C334.5,772.7 335.8,772.9 337.1,773.1C338.4,773.3 339.8,773.4 341.1,773.6C342.4,773.8 343.7,773.9 345.1,774.1C346.4,774.2 347.7,774.4 349.1,774.5C350.4,774.6 351.7,774.7 353.1,774.8C354.4,775.0 355.7,775.1 357.1,775.1C358.4,775.2 359.8,775.3 361.1,775.4C362.5,775.4 363.8,775.5 365.2,775.6C366.5,775.7 367.8,775.8 369.1,775.9C370.5,776.1 371.8,776.3 373.1,776.6C374.3,776.8 375.6,777.1 376.9,777.5C378.1,777.9 379.3,778.4 380.5,779.0C381.7,779.5 382.9,780.1 384.0,780.7C385.2,781.4 386.3,782.1 387.4,782.8C388.6,783.5 389.7,784.2 390.7,785.0C391.8,785.8 392.9,786.6 394.0,787.4C395.1,788.3 396.1,789.1 397.2,790.0C398.3,790.8 399.3,791.7 400.4,792.5C401.4,793.4 402.5,794.2 403.6,795.1C404.6,795.9 405.7,796.7 406.8,797.5C407.9,798.3 409.0,799.1 410.1,799.8C411.2,800.6 412.4,801.3 413.5,802.0C414.7,802.6 415.8,803.3 417.0,803.8C418.2,804.4 419.4,805.0 420.6,805.5C421.9,806.0 423.1,806.4 424.4,806.9C425.6,807.3 426.9,807.7 428.1,808.1C429.4,808.5 430.7,808.9 432.0,809.2C433.3,809.6 434.6,809.9 435.9,810.3C437.2,810.6 438.5,810.9 439.8,811.2C441.1,811.5 442.4,811.8 443.7,812.1C445.0,812.4 446.3,812.7 447.6,813.0C448.9,813.3 450.2,813.6 451.5,813.9C452.8,814.2 454.1,814.4 455.4,814.7C456.8,815.0 458.1,815.2 459.4,815.5C460.7,815.8 462.0,816.0 463.3,816.3C464.6,816.5 465.9,816.8 467.3,817.0C468.6,817.3 469.9,817.5 471.2,817.8C472.5,818.0 473.8,818.3 475.1,818.5C476.5,818.8 477.8,819.0 479.1,819.2C480.4,819.5 481.7,819.7 483.0,820.0C484.4,820.2 485.7,820.4 487.0,820.7C488.3,820.9 489.6,821.1 490.9,821.3C492.3,821.6 493.6,821.8 494.9,822.0C496.2,822.2 497.5,822.5 498.9,822.7C500.2,822.9 501.5,823.1 502.8,823.3C504.1,823.5 505.5,823.8 506.8,824.0C508.1,824.2 509.4,824.4 510.7,824.6C512.1,824.8 513.4,825.0 514.7,825.2C516.0,825.4 517.3,825.6 518.7,825.8C520.0,826.0 521.3,826.2 522.6,826.4C523.9,826.6 525.3,826.8 526.6,827.0C527.9,827.2 529.2,827.4 530.6,827.6C531.9,827.7 533.2,827.9 534.5,828.1C535.8,828.3 537.2,828.5 538.5,828.7C539.8,828.9 541.1,829.0 542.5,829.2C543.8,829.4 545.1,829.6 546.4,829.7C547.8,829.9 549.1,830.1 550.4,830.3C551.7,830.4 553.1,830.6 554.4,830.8C555.7,830.9 557.0,831.1 558.4,831.3C559.7,831.4 561.0,831.6 562.3,831.8C563.7,831.9 565.0,832.1 566.3,832.2C567.7,832.4 569.0,832.6 570.3,832.7C571.6,832.9 573.0,833.0 574.3,833.2C575.6,833.3 576.9,833.5 578.3,833.6C579.6,833.8 580.9,833.9 582.3,834.1C583.6,834.2 584.9,834.4 586.2,834.5C587.6,834.7 588.9,834.8 590.2,835.0C591.6,835.1 592.9,835.2 594.2,835.4C595.5,835.5 596.9,835.7 598.2,835.8C599.5,835.9 600.9,836.1 602.2,836.2C603.5,836.3 604.8,836.5 606.2,836.6C607.5,836.7 608.8,836.9 610.2,837.0C611.5,837.1 612.8,837.2 614.2,837.4C615.5,837.5 616.8,837.6 618.1,837.8C619.5,837.9 620.8,838.0 622.1,838.1C623.5,838.2 624.8,838.4 626.1,838.5C627.5,838.6 628.8,838.7 630.1,838.8C631.5,839.0 632.8,839.1 634.1,839.2C635.5,839.3 636.8,839.4 638.1,839.5C639.5,839.6 640.8,839.8 642.1,839.9C643.5,840.0 644.8,840.1 646.1,840.2C647.4,840.3 648.8,840.4 650.1,840.5C651.4,840.6 652.8,840.7 654.1,840.8C655.4,841.0 656.8,841.1 658.1,841.2C659.4,841.3 660.8,841.4 662.1,841.5C663.4,841.6 664.8,841.7 666.1,841.8C667.4,841.9 668.8,842.0 670.1,842.1C671.4,842.2 672.8,842.3 674.1,842.4C675.4,842.5 676.8,842.6 678.1,842.7C679.4,842.8 680.8,842.8 682.1,842.9C683.4,843.0 684.8,843.1 686.1,843.2C687.4,843.3 688.8,843.4 690.1,843.5C691.5,843.6 692.8,843.7 694.1,843.8C695.5,843.9 696.8,843.9 698.1,844.0C699.5,844.1 700.8,844.2 702.1,844.3C703.5,844.4 704.8,844.5 706.1,844.6C707.5,844.6 708.8,844.7 710.1,844.8C711.5,844.9 712.8,845.0 714.1,845.1C715.5,845.2 716.8,845.2 718.1,845.3C719.5,845.4 720.8,845.5 722.1,845.6C723.5,845.7 724.8,845.7 726.1,845.8C727.5,845.9 728.8,846.0 730.2,846.1C731.5,846.1 732.8,846.2 734.2,846.3C735.5,846.4 736.8,846.5 738.2,846.5C739.5,846.6 740.8,846.7 742.2,846.8C743.5,846.8 744.8,846.9 746.2,847.0C747.5,847.1 748.8,847.2 750.2,847.2C751.5,847.3 752.8,847.4 754.2,847.5C755.5,847.5 756.8,847.6 758.2,847.7C759.5,847.7 760.9,847.8 762.2,847.9C763.5,848.0 764.9,848.0 766.2,848.1C767.5,848.2 768.9,848.3 770.2,848.3C771.5,848.4 772.9,848.5 774.2,848.5C775.5,848.6 776.9,848.7 778.2,848.7C779.5,848.8 780.9,848.9 782.2,849.0C783.6,849.0 784.9,849.1 786.2,849.2C787.6,849.2 788.9,849.3 790.2,849.4C791.6,849.4 792.9,849.5 794.2,849.6C795.6,849.6 796.9,849.7 798.2,849.8C799.6,849.8 800.9,849.9 802.2,849.9C803.6,850.0 804.9,850.1 806.2,850.1C807.6,850.2 808.9,850.3 810.3,850.3C811.6,850.4 812.9,850.5 814.3,850.5C815.6,850.6 816.9,850.6 818.3,850.7C819.6,850.8 820.9,850.8 822.3,850.9C823.6,850.9 824.9,851.0 826.3,851.1C827.6,851.1 829.0,851.2 830.3,851.2C831.6,851.3 833.0,851.4 834.3,851.4C835.6,851.5 837.0,851.5 838.3,851.6C839.6,851.6 841.0,851.7 842.3,851.8C843.6,851.8 845.0,851.9 846.3,851.9C847.6,852.0 849.0,852.0 850.3,852.1C851.7,852.1 853.0,852.2 854.3,852.3C855.7,852.3 857.0,852.4 858.3,852.4C859.7,852.5 861.0,852.5 862.3,852.6C863.7,852.6 865.0,852.7 866.3,852.7C867.7,852.8 869.0,852.8 870.4,852.9C871.7,852.9 873.0,853.0 874.4,853.0C875.7,853.1 877.0,853.1 878.4,853.2C879.7,853.2 881.0,853.3 882.4,853.3C883.7,853.4 885.0,853.4 886.4,853.5C887.7,853.5 889.1,853.6 890.4,853.6C891.7,853.7 893.1,853.7 894.4,853.8C895.7,853.8 897.1,853.9 898.4,853.9C899.7,853.9 901.1,854.0 902.4,854.0C903.7,854.1 905.1,854.1 906.4,854.2C907.8,854.2 909.1,854.3 910.4,854.3C911.8,854.4 913.1,854.4 914.4,854.4C915.8,854.5 917.1,854.5 918.4,854.6C919.8,854.6 921.1,854.7 922.5,854.7C923.8,854.7 925.1,854.8 926.5,854.8C927.8,854.9 929.1,854.9 930.5,854.9C931.8,855.0 933.1,855.0 934.5,855.1C935.8,855.1 937.1,855.2 938.5,855.2C939.8,855.2 941.2,855.3 942.5,855.3C943.8,855.3 945.2,855.4 946.5,855.4C947.8,855.5 949.2,855.5 950.5,855.5C951.8,855.6 953.2,855.6 954.5,855.7C955.9,855.7 957.2,855.7 958.5,855.8C959.9,855.8 961.2,855.8 962.5,855.9C963.9,855.9 965.2,855.9 966.5,856.0C967.9,856.0 969.2,856.1 970.5,856.1C971.9,856.1 973.2,856.2 974.6,856.2C975.9,856.2 977.2,856.3 978.6,856.3C979.9,856.3 981.2,856.4 982.6,856.4C983.9,856.4 985.2,856.5 986.6,856.5C987.9,856.5 989.3,856.6 990.6,856.6C991.9,856.6 993.3,856.7 994.6,856.7C995.9,856.7 997.3,856.8 998.6,856.8C999.9,856.8 1001.3,856.8 1002.6,856.9C1004.0,856.9 1005.3,856.9 1006.6,857.0C1008.0,857.0 1009.3,857.0 1010.6,857.1C1012.0,857.1 1013.3,857.1 1014.6,857.1C1016.0,857.2 1017.3,857.2 1018.7,857.2C1020.0,857.3 1021.3,857.3 1022.7,857.3C1024.0,857.4 1025.3,857.4 1026.7,857.4C1028.0,857.4 1029.3,857.5 1030.7,857.5C1032.0,857.5 1033.4,857.5 1034.7,857.6C1036.0,857.6 1037.4,857.6 1038.7,857.7C1040.0,857.7 1041.4,857.7 1042.7,857.7C1044.0,857.8 1045.4,857.8 1046.7,857.8C1048.1,857.8 1049.4,857.9 1050.7,857.9C1052.1,857.9 1053.4,857.9 1054.7,858.0C1056.1,858.0 1057.4,858.0 1058.7,858.0C1060.1,858.1 1061.4,858.1 1062.8,858.1C1064.1,858.1 1065.4,858.2 1066.8,858.2C1068.1,858.2 1069.4,858.2 1070.8,858.2C1072.1,858.3 1073.5,858.3 1074.8,858.3C1076.1,858.3 1077.5,858.4 1078.8,858.4C1080.1,858.4 1081.5,858.4 1082.8,858.4C1084.1,858.5 1085.5,858.5 1086.8,858.5C1088.2,858.5 1089.5,858.6 1090.8,858.6C1092.2,858.6 1093.5,858.6 1094.8,858.6C1096.2,858.7 1097.5,858.7 1098.8,858.7C1100.2,858.7 1101.5,858.7 1102.9,858.8C1104.2,858.8 1105.5,858.8 1106.9,858.8C1108.2,858.8 1109.5,858.9 1110.9,858.9C1112.2,858.9 1113.5,858.9 1114.9,858.9C1116.2,859.0 1117.6,859.0 1118.9,859.0C1120.2,859.0 1121.6,859.0 1122.9,859.1C1124.2,859.1 1125.6,859.1 1126.9,859.1C1128.3,859.1 1129.6,859.1 1130.9,859.2C1132.3,859.2 1133.6,859.2 1134.9,859.2C1136.3,859.2 1137.6,859.3 1138.9,859.3C1140.3,859.3 1141.6,859.3 1143.0,859.3C1144.3,859.3 1145.6,859.4 1147.0,859.4C1148.3,859.4 1149.6,859.4 1151.0,859.4C1152.3,859.4 1153.6,859.5 1155.0,859.5C1156.3,859.5 1157.7,859.5 1159.0,859.5C1160.3,859.5 1161.7,859.5 1163.0,859.6C1164.3,859.6 1165.7,859.6 1167.0,859.6C1168.4,859.6 1169.7,859.6 1171.0,859.7C1172.4,859.7 1173.7,859.7 1175.0,859.7C1176.4,859.7 1177.7,859.7 1179.0,859.7C1180.4,859.8 1181.7,859.8 1183.1,859.8C1184.4,859.8 1185.7,859.8 1187.1,859.8C1188.4,859.8 1189.7,859.9 1191.1,859.9C1192.4,859.9 1193.8,859.9 1195.1,859.9C1196.4,859.9 1197.8,859.9 1199.1,860.0C1200.4,860.0 1201.8,860.0 1203.1,860.0C1204.4,860.0 1205.8,860.0 1207.1,860.0C1208.5,860.1 1209.8,860.1 1211.1,860.1C1212.5,860.1 1213.8,860.1 1215.1,860.1C1216.5,860.1 1217.8,860.1 1219.2,860.2C1220.5,860.2 1221.8,860.2 1223.2,860.2C1224.5,860.2 1225.8,860.2 1227.2,860.2C1228.5,860.2 1229.8,860.3 1231.2,860.3C1232.5,860.3 1233.9,860.3 1235.2,860.3C1236.5,860.3 1237.9,860.3 1239.2,860.3C1240.5,860.4 1241.9,860.4 1243.2,860.4C1244.5,860.4 1245.9,860.4 1247.2,860.4C1248.6,860.4 1249.9,860.4 1251.2,860.4C1252.6,860.5 1253.9,860.5 1255.2,860.5C1256.6,860.5 1257.9,860.5 1259.3,860.5C1260.6,860.5 1261.9,860.5 1263.3,860.6C1264.6,860.6 1265.9,860.6 1267.3,860.6C1268.6,860.6 1269.9,860.6 1271.3,860.6C1272.6,860.6 1274.0,860.6 1275.3,860.7C1276.6,860.7 1278.0,860.7 1279.3,860.7C1280.6,860.7 1282.0,860.7 1283.3,860.7C1284.7,860.7 1286.0,860.7 1287.3,860.8C1288.7,860.8 1290.0,860.8 1291.3,860.8C1292.7,860.8 1294.0,860.8 1295.3,860.8C1296.7,860.8 1298.0,860.8 1299.4,860.8C1300.7,860.9 1302.0,860.9 1303.4,860.9C1304.7,860.9 1306.0,860.9 1307.4,860.9C1308.7,860.9 1310.1,860.9 1311.4,860.9C1312.7,861.0 1314.1,861.0 1315.4,861.0C1316.7,861.0 1318.1,861.0 1319.4,861.0C1320.7,861.0 1322.1,861.0 1323.4,861.0C1324.8,861.1 1326.1,861.1 1327.4,861.1C1328.8,861.1 1330.1,861.1 1331.4,861.1C1332.8,861.1 1334.1,861.1 1335.5,861.1C1336.8,861.1 1338.1,861.2 1339.5,861.2C1340.8,861.2 1342.1,861.2 1343.5,861.2C1344.8,861.2 1346.1,861.2 1347.5,861.2C1348.8,861.2 1350.2,861.3 1351.5,861.3C1352.8,861.3 1354.2,861.3 1355.5,861.3C1356.8,861.3 1358.2,861.3 1359.5,861.3C1360.8,861.3 1362.2,861.4 1363.5,861.4C1364.9,861.4 1366.2,861.4 1367.5,861.4C1368.9,861.4 1370.2,861.4 1371.5,861.4C1372.9,861.4 1374.2,861.5 1375.6,861.5C1376.9,861.5 1378.2,861.5 1379.6,861.5C1380.9,861.5 1382.2,861.5 1383.6,861.5C1384.9,861.5 1386.2,861.6 1387.6,861.6C1388.9,861.6 1390.3,861.6 1391.6,861.6C1392.9,861.6 1394.3,861.6 1395.6,861.6C1396.9,861.7 1398.3,861.7 1399.6,861.7C1400.9,861.7 1402.3,861.7 1403.6,861.7C1405.0,861.7 1406.3,861.7 1407.6,861.7C1409.0,861.8 1410.3,861.8 1411.6,861.8C1413.0,861.8 1414.3,861.8 1415.7,861.8C1417.0,861.8 1418.3,861.8 1419.7,861.9C1421.0,861.9 1422.3,861.9 1423.7,861.9C1425.0,861.9 1426.3,861.9 1427.7,861.9C1429.0,862.0 1430.4,862.0 1431.7,862.0C1433.0,862.0 1434.4,862.0 1435.7,862.0C1437.0,862.0 1438.4,862.0 1439.7,862.1C1441.0,862.1 1442.4,862.1 1443.7,862.1C1445.1,862.1 1446.4,862.1 1447.7,862.1C1449.1,862.2 1450.4,862.2 1451.7,862.2C1453.1,862.2 1454.4,862.2 1455.7,862.2C1457.1,862.2 1458.4,862.3 1459.8,862.3C1461.1,862.3 1462.4,862.3 1463.8,862.3C1465.1,862.3 1466.4,862.3 1467.8,862.4C1469.1,862.4 1470.4,862.4 1471.8,862.4C1473.1,862.4 1474.5,862.4 1475.8,862.4C1477.1,862.5 1478.5,862.5 1479.8,862.5C1481.1,862.5 1482.5,862.5 1483.8,862.5C1485.1,862.6 1486.5,862.6 1487.8,862.6C1489.2,862.6 1490.5,862.6 1491.8,862.6C1493.2,862.7 1494.5,862.7 1495.8,862.7C1497.2,862.7 1498.5,862.7 1499.8,862.7C1501.2,862.8 1502.5,862.8 1503.9,862.8C1505.2,862.8 1506.5,862.8 1507.9,862.8C1509.2,862.9 1510.5,862.9 1511.9,862.9C1513.2,862.9 1514.5,862.9 1515.9,863.0C1517.2,863.0 1518.6,863.0 1519.9,863.0C1521.2,863.0 1522.6,863.0 1523.9,863.1C1525.2,863.1 1526.6,863.1 1527.9,863.1C1529.2,863.1 1530.6,863.2 1531.9,863.2C1533.3,863.2 1534.6,863.2 1535.9,863.2C1537.3,863.3 1538.6,863.3 1539.9,863.3C1541.3,863.3 1542.6,863.3 1543.9,863.4C1545.3,863.4 1546.6,863.4 1548.0,863.4C1549.3,863.4 1550.6,863.5 1552.0,863.5C1553.3,863.5 1554.6,863.5 1556.0,863.6C1557.3,863.6 1559.3,863.6 1560.0,863.6" stroke="#C00000"/>
<path d="M145.93,462.57C146.6,462.6 148.8,462.7 150.2,462.5C151.5,462.4 152.9,462.1 154.1,461.7C155.4,461.3 156.7,460.7 157.9,460.1C159.0,459.5 160.2,458.8 161.3,458.0C162.4,457.3 163.4,456.4 164.5,455.5C165.5,454.6 166.4,453.6 167.4,452.6C168.3,451.6 169.2,450.5 170.1,449.4C170.9,448.3 171.8,447.2 172.5,446.1C173.3,445.0 174.1,443.8 174.8,442.7C175.6,441.5 176.3,440.4 177.0,439.2C177.6,438.0 178.3,436.8 178.9,435.6C179.6,434.4 180.2,433.2 180.8,432.0C181.4,430.7 182.0,429.5 182.6,428.3C183.2,427.0 183.7,425.8 184.3,424.6C184.9,423.3 185.4,422.1 186.0,420.8C186.5,419.6 187.1,418.3 187.6,417.0C188.1,415.8 188.5,414.5 189.0,413.2C189.5,411.9 189.9,410.6 190.3,409.3C190.7,408.0 191.1,406.7 191.5,405.4C191.9,404.1 192.3,402.8 192.6,401.5C193.0,400.2 193.3,398.8 193.7,397.5C194.0,396.2 194.3,394.9 194.6,393.5C194.9,392.2 195.2,390.9 195.5,389.5C195.8,388.2 196.1,386.9 196.4,385.5C196.6,384.2 196.9,382.8 197.2,381.5C197.4,380.1 197.7,378.8 197.9,377.5C198.2,376.1 198.4,374.8 198.6,373.4C198.9,372.1 199.1,370.7 199.3,369.4C199.6,368.0 199.8,366.7 200.0,365.3C200.3,364.0 200.5,362.6 200.7,361.3C200.9,359.9 201.2,358.6 201.4,357.2C201.6,355.9 201.8,354.5 202.1,353.2C202.3,351.8 202.5,350.5 202.7,349.1C202.9,347.8 203.2,346.4 203.4,345.1C203.6,343.7 203.8,342.4 204.0,341.0C204.2,339.7 204.5,338.3 204.7,337.0C204.9,335.6 205.1,334.3 205.3,332.9C205.5,331.6 205.7,330.2 205.9,328.9C206.1,327.5 206.2,326.2 206.4,324.8C206.6,323.5 206.8,322.1 207.0,320.8C207.1,319.4 207.3,318.1 207.5,316.7C207.6,315.4 207.8,314.0 208.0,312.6C208.1,311.3 208.2,309.9 208.4,308.6C208.5,307.2 208.7,305.8 208.8,304.5C209.0,303.1 209.1,301.7 209.2,300.4C209.4,299.0 209.5,297.6 209.6,296.3C209.8,294.9 209.9,293.6 210.0,292.2C210.2,290.8 210.3,289.5 210.5,288.1C210.6,286.8 210.8,285.4 210.9,284.0C211.1,282.7 211.3,281.3 211.4,280.0C211.6,278.6 211.8,277.3 212.0,275.9C212.2,274.5 212.4,273.2 212.6,271.9C212.8,270.5 213.0,269.2 213.3,267.8C213.5,266.5 213.8,265.1 214.1,263.8C214.3,262.5 214.6,261.1 214.9,259.8C215.2,258.5 215.5,257.1 215.9,255.8C216.2,254.5 216.6,253.2 216.9,251.9C217.3,250.6 217.9,248.6 218.1,247.9C218.6,248.6 219.3,250.5 219.7,251.8C220.1,253.1 220.5,254.3 220.8,255.6C221.2,256.9 221.5,258.2 221.8,259.5C222.1,260.8 222.4,262.1 222.7,263.4C222.9,264.7 223.2,266.0 223.4,267.3C223.6,268.7 223.8,270.0 224.0,271.3C224.2,272.6 224.4,273.9 224.5,275.3C224.7,276.6 224.8,277.9 225.0,279.2C225.1,280.6 225.2,281.9 225.3,283.2C225.4,284.6 225.5,285.9 225.7,287.2C225.8,288.6 225.9,289.9 226.0,291.2C226.0,292.6 226.1,293.9 226.2,295.3C226.3,296.6 226.4,297.9 226.5,299.3C226.6,300.6 226.7,301.9 226.8,303.3C226.9,304.6 227.0,305.9 227.1,307.3C227.2,308.6 227.4,309.9 227.5,311.3C227.6,312.6 227.7,313.9 227.8,315.3C227.9,316.6 228.0,317.9 228.1,319.3C228.3,320.6 228.4,321.9 228.5,323.3C228.6,324.6 228.7,325.9 228.9,327.3C229.0,328.6 229.1,329.9 229.2,331.3C229.3,332.6 229.5,333.9 229.6,335.2C229.7,336.6 229.9,337.9 230.0,339.2C230.1,340.6 230.2,341.9 230.4,343.2C230.5,344.6 230.6,345.9 230.7,347.2C230.9,348.5 231.0,349.9 231.1,351.2C231.3,352.5 231.4,353.9 231.5,355.2C231.7,356.5 231.8,357.9 231.9,359.2C232.0,360.5 232.2,361.8 232.3,363.2C232.4,364.5 232.6,365.8 232.7,367.2C232.8,368.5 232.9,369.8 233.1,371.2C233.2,372.5 233.3,373.8 233.5,375.1C233.6,376.5 233.7,377.8 233.8,379.1C234.0,380.5 234.1,381.8 234.2,383.1C234.4,384.5 234.5,385.8 234.6,387.1C234.8,388.4 234.9,389.8 235.0,391.1C235.2,392.4 235.3,393.8 235.5,395.1C235.6,396.4 235.7,397.8 235.9,399.1C236.0,400.4 236.2,401.7 236.3,403.1C236.4,404.4 236.6,405.7 236.7,407.1C236.9,408.4 237.0,409.7 237.2,411.0C237.3,412.4 237.5,413.7 237.7,415.0C237.8,416.3 238.0,417.7 238.1,419.0C238.3,420.3 238.5,421.7 238.6,423.0C238.8,424.3 239.0,425.6 239.1,427.0C239.3,428.3 239.5,429.6 239.7,430.9C239.8,432.3 240.0,433.6 240.2,434.9C240.4,436.2 240.6,437.6 240.8,438.9C241.0,440.2 241.2,441.5 241.4,442.8C241.6,444.2 241.8,445.5 242.0,446.8C242.2,448.1 242.4,449.4 242.6,450.8C242.8,452.1 243.1,453.4 243.3,454.7C243.5,456.0 243.7,457.4 244.0,458.7C244.2,460.0 244.4,461.3 244.7,462.6C244.9,463.9 245.2,465.3 245.4,466.6C245.7,467.9 245.9,469.2 246.2,470.5C246.4,471.8 246.7,473.1 247.0,474.5C247.3,475.8 247.5,477.1 247.8,478.4C248.1,479.7 248.4,481.0 248.6,482.3C248.9,483.6 249.2,484.9 249.5,486.2C249.8,487.5 250.1,488.9 250.4,490.2C250.7,491.5 251.0,492.8 251.3,494.1C251.6,495.4 251.8,496.7 252.1,498.0C252.4,499.3 252.7,500.6 253.0,501.9C253.3,503.1 253.6,504.4 253.9,505.7C254.2,507.0 254.5,508.3 254.8,509.6C255.1,510.9 255.5,512.2 255.8,513.5C256.1,514.8 256.5,516.0 256.8,517.3C257.2,518.6 257.5,519.9 257.9,521.2C258.3,522.4 258.7,523.7 259.1,525.0C259.6,526.3 260.0,527.5 260.5,528.8C261.0,530.1 261.5,531.3 262.0,532.6C262.5,533.9 263.1,535.1 263.6,536.4C264.2,537.6 264.8,538.9 265.5,540.1C266.1,541.3 266.8,542.4 267.6,543.6C268.3,544.7 269.1,545.8 269.9,546.9C270.7,547.9 271.6,548.9 272.5,549.8C273.4,550.8 274.4,551.6 275.4,552.4C276.4,553.2 277.5,553.9 278.6,554.6C279.7,555.2 280.9,555.8 282.1,556.4C283.3,556.9 284.5,557.4 285.8,557.9C287.1,558.3 288.4,558.7 289.7,559.1C291.0,559.5 292.3,559.8 293.6,560.1C294.9,560.4 296.3,560.7 297.6,561.0C298.9,561.3 300.2,561.6 301.6,561.8C302.9,562.1 304.2,562.4 305.5,562.6C306.9,562.9 308.2,563.1 309.5,563.3C310.8,563.6 312.1,563.8 313.4,564.0C314.8,564.2 316.1,564.4 317.4,564.6C318.7,564.8 320.0,565.0 321.3,565.2C322.6,565.4 324.0,565.6 325.3,565.8C326.6,566.0 327.9,566.2 329.2,566.4C330.5,566.6 331.8,566.8 333.2,566.9C334.5,567.1 335.8,567.3 337.1,567.5C338.4,567.7 339.8,567.8 341.1,568.0C342.4,568.2 343.7,568.3 345.1,568.5C346.4,568.6 347.7,568.8 349.1,568.9C350.4,569.0 351.7,569.1 353.1,569.2C354.4,569.4 355.7,569.5 357.1,569.5C358.4,569.6 359.8,569.7 361.1,569.8C362.5,569.8 363.8,569.9 365.2,570.0C366.5,570.1 367.8,570.2 369.1,570.3C370.5,570.5 371.8,570.7 373.1,571.0C374.3,571.2 375.6,571.5 376.9,571.9C378.1,572.3 379.3,572.8 380.5,573.4C381.7,573.9 382.9,574.5 384.0,575.1C385.2,575.8 386.3,576.5 387.4,577.2C388.6,577.9 389.7,578.6 390.7,579.4C391.8,580.2 392.9,581.0 394.0,581.8C395.1,582.7 396.1,583.5 397.2,584.4C398.3,585.2 399.3,586.1 400.4,586.9C401.4,587.8 402.5,588.6 403.6,589.5C404.6,590.3 405.7,591.1 406.8,591.9C407.9,592.7 409.0,593.5 410.1,594.2C411.2,595.0 412.4,595.7 413.5,596.4C414.7,597.0 415.8,597.7 417.0,598.2C418.2,598.8 419.4,599.4 420.6,599.9C421.9,600.4 423.1,600.8 424.4,601.3C425.6,601.7 426.9,602.1 428.1,602.5C429.4,602.9 430.7,603.3 432.0,603.6C433.3,604.0 434.6,604.3 435.9,604.7C437.2,605.0 438.5,605.3 439.8,605.6C441.1,605.9 442.4,606.2 443.7,606.5C445.0,606.8 446.3,607.1 447.6,607.4C448.9,607.7 450.2,608.0 451.5,608.3C452.8,608.6 454.1,608.8 455.4,609.1C456.8,609.4 458.1,609.6 459.4,609.9C460.7,610.2 462.0,610.4 463.3,610.7C464.6,610.9 465.9,611.2 467.3,611.4C468.6,611.7 469.9,611.9 471.2,612.2C472.5,612.4 473.8,612.7 475.1,612.9C476.5,613.2 477.8,613.4 479.1,613.6C480.4,613.9 481.7,614.1 483.0,614.4C484.4,614.6 485.7,614.8 487.0,615.1C488.3,615.3 489.6,615.5 490.9,615.7C492.3,616.0 493.6,616.2 494.9,616.4C496.2,616.6 497.5,616.9 498.9,617.1C500.2,617.3 501.5,617.5 502.8,617.7C504.1,617.9 505.5,618.2 506.8,618.4C508.1,618.6 509.4,618.8 510.7,619.0C512.1,619.2 513.4,619.4 514.7,619.6C516.0,619.8 517.3,620.0 518.7,620.2C520.0,620.4 521.3,620.6 522.6,620.8C523.9,621.0 525.3,621.2 526.6,621.4C527.9,621.6 529.2,621.8 530.6,622.0C531.9,622.1 533.2,622.3 534.5,622.5C535.8,622.7 537.2,622.9 538.5,623.1C539.8,623.3 541.1,623.4 542.5,623.6C543.8,623.8 545.1,624.0 546.4,624.1C547.8,624.3 549.1,624.5 550.4,624.7C551.7,624.8 553.1,625.0 554.4,625.2C555.7,625.3 557.0,625.5 558.4,625.7C559.7,625.8 561.0,626.0 562.3,626.2C563.7,626.3 565.0,626.5 566.3,626.6C567.7,626.8 569.0,627.0 570.3,627.1C571.6,627.3 573.0,627.4 574.3,627.6C575.6,627.7 576.9,627.9 578.3,628.0C579.6,628.2 580.9,628.3 582.3,628.5C583.6,628.6 584.9,628.8 586.2,628.9C587.6,629.1 588.9,629.2 590.2,629.4C591.6,629.5 592.9,629.6 594.2,629.8C595.5,629.9 596.9,630.1 598.2,630.2C599.5,630.3 600.9,630.5 602.2,630.6C603.5,630.7 604.8,630.9 606.2,631.0C607.5,631.1 608.8,631.3 610.2,631.4C611.5,631.5 612.8,631.6 614.2,631.8C615.5,631.9 616.8,632.0 618.1,632.2C619.5,632.3 620.8,632.4 622.1,632.5C623.5,632.6 624.8,632.8 626.1,632.9C627.5,633.0 628.8,633.1 630.1,633.2C631.5,633.4 632.8,633.5 634.1,633.6C635.5,633.7 636.8,633.8 638.1,633.9C639.5,634.0 640.8,634.2 642.1,634.3C643.5,634.4 644.8,634.5 646.1,634.6C647.4,634.7 648.8,634.8 650.1,634.9C651.4,635.0 652.8,635.1 654.1,635.2C655.4,635.4 656.8,635.5 658.1,635.6C659.4,635.7 660.8,635.8 662.1,635.9C663.4,636.0 664.8,636.1 666.1,636.2C667.4,636.3 668.8,636.4 670.1,636.5C671.4,636.6 672.8,636.7 674.1,636.8C675.4,636.9 676.8,637.0 678.1,637.1C679.4,637.2 680.8,637.2 682.1,637.3C683.4,637.4 684.8,637.5 686.1,637.6C687.4,637.7 688.8,637.8 690.1,637.9C691.5,638.0 692.8,638.1 694.1,638.2C695.5,638.3 696.8,638.3 698.1,638.4C699.5,638.5 700.8,638.6 702.1,638.7C703.5,638.8 704.8,638.9 706.1,639.0C707.5,639.0 708.8,639.1 710.1,639.2C711.5,639.3 712.8,639.4 714.1,639.5C715.5,639.6 716.8,639.6 718.1,639.7C719.5,639.8 720.8,639.9 722.1,640.0C723.5,640.1 724.8,640.1 726.1,640.2C727.5,640.3 728.8,640.4 730.2,640.5C731.5,640.5 732.8,640.6 734.2,640.7C735.5,640.8 736.8,640.9 738.2,640.9C739.5,641.0 740.8,641.1 742.2,641.2C743.5,641.2 744.8,641.3 746.2,641.4C747.5,641.5 748.8,641.6 750.2,641.6C751.5,641.7 752.8,641.8 754.2,641.9C755.5,641.9 756.8,642.0 758.2,642.1C759.5,642.1 760.9,642.2 762.2,642.3C763.5,642.4 764.9,642.4 766.2,642.5C767.5,642.6 768.9,642.7 770.2,642.7C771.5,642.8 772.9,642.9 774.2,642.9C775.5,643.0 776.9,643.1 778.2,643.1C779.5,643.2 780.9,643.3 782.2,643.4C783.6,643.4 784.9,643.5 786.2,643.6C787.6,643.6 788.9,643.7 790.2,643.8C791.6,643.8 792.9,643.9 794.2,644.0C795.6,644.0 796.9,644.1 798.2,644.2C799.6,644.2 800.9,644.3 802.2,644.3C803.6,644.4 804.9,644.5 806.2,644.5C807.6,644.6 808.9,644.7 810.3,644.7C811.6,644.8 812.9,644.9 814.3,644.9C815.6,645.0 816.9,645.0 818.3,645.1C819.6,645.2 820.9,645.2 822.3,645.3C823.6,645.3 824.9,645.4 826.3,645.5C827.6,645.5 829.0,645.6 830.3,645.6C831.6,645.7 833.0,645.8 834.3,645.8C835.6,645.9 837.0,645.9 838.3,646.0C839.6,646.0 841.0,646.1 842.3,646.2C843.6,646.2 845.0,646.3 846.3,646.3C847.6,646.4 849.0,646.4 850.3,646.5C851.7,646.5 853.0,646.6 854.3,646.7C855.7,646.7 857.0,646.8 858.3,646.8C859.7,646.9 861.0,646.9 862.3,647.0C863.7,647.0 865.0,647.1 866.3,647.1C867.7,647.2 869.0,647.2 870.4,647.3C871.7,647.3 873.0,647.4 874.4,647.4C875.7,647.5 877.0,647.5 878.4,647.6C879.7,647.6 881.0,647.7 882.4,647.7C883.7,647.8 885.0,647.8 886.4,647.9C887.7,647.9 889.1,648.0 890.4,648.0C891.7,648.1 893.1,648.1 894.4,648.2C895.7,648.2 897.1,648.3 898.4,648.3C899.7,648.3 901.1,648.4 902.4,648.4C903.7,648.5 905.1,648.5 906.4,648.6C907.8,648.6 909.1,648.7 910.4,648.7C911.8,648.8 913.1,648.8 914.4,648.8C915.8,648.9 917.1,648.9 918.4,649.0C919.8,649.0 921.1,649.1 922.5,649.1C923.8,649.1 925.1,649.2 926.5,649.2C927.8,649.3 929.1,649.3 930.5,649.3C931.8,649.4 933.1,649.4 934.5,649.5C935.8,649.5 937.1,649.6 938.5,649.6C939.8,649.6 941.2,649.7 942.5,649.7C943.8,649.7 945.2,649.8 946.5,649.8C947.8,649.9 949.2,649.9 950.5,649.9C951.8,650.0 953.2,650.0 954.5,650.1C955.9,650.1 957.2,650.1 958.5,650.2C959.9,650.2 961.2,650.2 962.5,650.3C963.9,650.3 965.2,650.3 966.5,650.4C967.9,650.4 969.2,650.5 970.5,650.5C971.9,650.5 973.2,650.6 974.6,650.6C975.9,650.6 977.2,650.7 978.6,650.7C979.9,650.7 981.2,650.8 982.6,650.8C983.9,650.8 985.2,650.9 986.6,650.9C987.9,650.9 989.3,651.0 990.6,651.0C991.9,651.0 993.3,651.1 994.6,651.1C995.9,651.1 997.3,651.2 998.6,651.2C999.9,651.2 1001.3,651.2 1002.6,651.3C1004.0,651.3 1005.3,651.3 1006.6,651.4C1008.0,651.4 1009.3,651.4 1010.6,651.5C1012.0,651.5 1013.3,651.5 1014.6,651.5C1016.0,651.6 1017.3,651.6 1018.7,651.6C1020.0,651.7 1021.3,651.7 1022.7,651.7C1024.0,651.8 1025.3,651.8 1026.7,651.8C1028.0,651.8 1029.3,651.9 1030.7,651.9C1032.0,651.9 1033.4,651.9 1034.7,652.0C1036.0,652.0 1037.4,652.0 1038.7,652.1C1040.0,652.1 1041.4,652.1 1042.7,652.1C1044.0,652.2 1045.4,652.2 1046.7,652.2C1048.1,652.2 1049.4,652.3 1050.7,652.3C1052.1,652.3 1053.4,652.3 1054.7,652.4C1056.1,652.4 1057.4,652.4 1058.7,652.4C1060.1,652.5 1061.4,652.5 1062.8,652.5C1064.1,652.5 1065.4,652.6 1066.8,652.6C1068.1,652.6 1069.4,652.6 1070.8,652.6C1072.1,652.7 1073.5,652.7 1074.8,652.7C1076.1,652.7 1077.5,652.8 1078.8,652.8C1080.1,652.8 1081.5,652.8 1082.8,652.8C1084.1,652.9 1085.5,652.9 1086.8,652.9C1088.2,652.9 1089.5,653.0 1090.8,653.0C1092.2,653.0 1093.5,653.0 1094.8,653.0C1096.2,653.1 1097.5,653.1 1098.8,653.1C1100.2,653.1 1101.5,653.1 1102.9,653.2C1104.2,653.2 1105.5,653.2 1106.9,653.2C1108.2,653.2 1109.5,653.3 1110.9,653.3C1112.2,653.3 1113.5,653.3 1114.9,653.3C1116.2,653.4 1117.6,653.4 1118.9,653.4C1120.2,653.4 1121.6,653.4 1122.9,653.5C1124.2,653.5 1125.6,653.5 1126.9,653.5C1128.3,653.5 1129.6,653.5 1130.9,653.6C1132.3,653.6 1133.6,653.6 1134.9,653.6C1136.3,653.6 1137.6,653.7 1138.9,653.7C1140.3,653.7 1141.6,653.7 1143.0,653.7C1144.3,653.7 1145.6,653.8 1147.0,653.8C1148.3,653.8 1149.6,653.8 1151.0,653.8C1152.3,653.8 1153.6,653.9 1155.0,653.9C1156.3,653.9 1157.7,653.9 1159.0,653.9C1160.3,653.9 1161.7,653.9 1163.0,654.0C1164.3,654.0 1165.7,654.0 1167.0,654.0C1168.4,654.0 1169.7,654.0 1171.0,654.1C1172.4,654.1 1173.7,654.1 1175.0,654.1C1176.4,654.1 1177.7,654.1 1179.0,654.1C1180.4,654.2 1181.7,654.2 1183.1,654.2C1184.4,654.2 1185.7,654.2 1187.1,654.2C1188.4,654.2 1189.7,654.3 1191.1,654.3C1192.4,654.3 1193.8,654.3 1195.1,654.3C1196.4,654.3 1197.8,654.3 1199.1,654.4C1200.4,654.4 1201.8,654.4 1203.1,654.4C1204.4,654.4 1205.8,654.4 1207.1,654.4C1208.5,654.5 1209.8,654.5 1211.1,654.5C1212.5,654.5 1213.8,654.5 1215.1,654.5C1216.5,654.5 1217.8,654.5 1219.2,654.6C1220.5,654.6 1221.8,654.6 1223.2,654.6C1224.5,654.6 1225.8,654.6 1227.2,654.6C1228.5,654.6 1229.8,654.7 1231.2,654.7C1232.5,654.7 1233.9,654.7 1235.2,654.7C1236.5,654.7 1237.9,654.7 1239.2,654.7C1240.5,654.8 1241.9,654.8 1243.2,654.8C1244.5,654.8 1245.9,654.8 1247.2,654.8C1248.6,654.8 1249.9,654.8 1251.2,654.8C1252.6,654.9 1253.9,654.9 1255.2,654.9C1256.6,654.9 1257.9,654.9 1259.3,654.9C1260.6,654.9 1261.9,654.9 1263.3,655.0C1264.6,655.0 1265.9,655.0 1267.3,655.0C1268.6,655.0 1269.9,655.0 1271.3,655.0C1272.6,655.0 1274.0,655.0 1275.3,655.1C1276.6,655.1 1278.0,655.1 1279.3,655.1C1280.6,655.1 1282.0,655.1 1283.3,655.1C1284.7,655.1 1286.0,655.1 1287.3,655.2C1288.7,655.2 1290.0,655.2 1291.3,655.2C1292.7,655.2 1294.0,655.2 1295.3,655.2C1296.7,655.2 1298.0,655.2 1299.4,655.2C1300.7,655.3 1302.0,655.3 1303.4,655.3C1304.7,655.3 1306.0,655.3 1307.4,655.3C1308.7,655.3 1310.1,655.3 1311.4,655.3C1312.7,655.4 1314.1,655.4 1315.4,655.4C1316.7,655.4 1318.1,655.4 1319.4,655.4C1320.7,655.4 1322.1,655.4 1323.4,655.4C1324.8,655.5 1326.1,655.5 1327.4,655.5C1328.8,655.5 1330.1,655.5 1331.4,655.5C1332.8,655.5 1334.1,655.5 1335.5,655.5C1336.8,655.5 1338.1,655.6 1339.5,655.6C1340.8,655.6 1342.1,655.6 1343.5,655.6C1344.8,655.6 1346.1,655.6 1347.5,655.6C1348.8,655.6 1350.2,655.7 1351.5,655.7C1352.8,655.7 1354.2,655.7 1355.5,655.7C1356.8,655.7 1358.2,655.7 1359.5,655.7C1360.8,655.7 1362.2,655.8 1363.5,655.8C1364.9,655.8 1366.2,655.8 1367.5,655.8C1368.9,655.8 1370.2,655.8 1371.5,655.8C1372.9,655.8 1374.2,655.9 1375.6,655.9C1376.9,655.9 1378.2,655.9 1379.6,655.9C1380.9,655.9 1382.2,655.9 1383.6,655.9C1384.9,655.9 1386.2,656.0 1387.6,656.0C1388.9,656.0 1390.3,656.0 1391.6,656.0C1392.9,656.0 1394.3,656.0 1395.6,656.0C1396.9,656.1 1398.3,656.1 1399.6,656.1C1400.9,656.1 1402.3,656.1 1403.6,656.1C1405.0,656.1 1406.3,656.1 1407.6,656.1C1409.0,656.2 1410.3,656.2 1411.6,656.2C1413.0,656.2 1414.3,656.2 1415.7,656.2C1417.0,656.2 1418.3,656.2 1419.7,656.3C1421.0,656.3 1422.3,656.3 1423.7,656.3C1425.0,656.3 1426.3,656.3 1427.7,656.3C1429.0,656.4 1430.4,656.4 1431.7,656.4C1433.0,656.4 1434.4,656.4 1435.7,656.4C1437.0,656.4 1438.4,656.4 1439.7,656.5C1441.0,656.5 1442.4,656.5 1443.7,656.5C1445.1,656.5 1446.4,656.5 1447.7,656.5C1449.1,656.6 1450.4,656.6 1451.7,656.6C1453.1,656.6 1454.4,656.6 1455.7,656.6C1457.1,656.6 1458.4,656.7 1459.8,656.7C1461.1,656.7 1462.4,656.7 1463.8,656.7C1465.1,656.7 1466.4,656.7 1467.8,656.8C1469.1,656.8 1470.4,656.8 1471.8,656.8C1473.1,656.8 1474.5,656.8 1475.8,656.8C1477.1,656.9 1478.5,656.9 1479.8,656.9C1481.1,656.9 1482.5,656.9 1483.8,656.9C1485.1,657.0 1486.5,657.0 1487.8,657.0C1489.2,657.0 1490.5,657.0 1491.8,657.0C1493.2,657.1 1494.5,657.1 1495.8,657.1C1497.2,657.1 1498.5,657.1 1499.8,657.1C1501.2,657.2 1502.5,657.2 1503.9,657.2C1505.2,657.2 1506.5,657.2 1507.9,657.2C1509.2,657.3 1510.5,657.3 1511.9,657.3C1513.2,657.3 1514.5,657.3 1515.9,657.4C1517.2,657.4 1518.6,657.4 1519.9,657.4C1521.2,657.4 1522.6,657.4 1523.9,657.5C1525.2,657.5 1526.6,657.5 1527.9,657.5C1529.2,657.5 1530.6,657.6 1531.9,657.6C1533.3,657.6 1534.6,657.6 1535.9,657.6C1537.3,657.7 1538.6,657.7 1539.9,657.7C1541.3,657.7 1542.6,657.7 1543.9,657.8C1545.3,657.8 1546.6,657.8 1548.0,657.8C1549.3,657.8 1550.6,657.9 1552.0,657.9C1553.3,657.9 1554.6,657.9 1556.0,658.0C1557.3,658.0 1559.3,658.0 1560.0,658.0" stroke="#FF1A1A"/>
</g>
<text x="97.36" y="1927.30" font-size="74.5" textLength="98.43" lengthAdjust="spacingAndGlyphs">0.6</text>
<text x="480.14" y="1927.30" font-size="74.5" textLength="97.44" lengthAdjust="spacingAndGlyphs">2.6</text>
<text x="862.14" y="1927.30" font-size="74.5" textLength="97.34" lengthAdjust="spacingAndGlyphs">4.6</text>
<text x="1244.21" y="1927.30" font-size="74.5" textLength="98.28" lengthAdjust="spacingAndGlyphs">6.6</text>
<text x="721.50" y="2011.30" font-size="87" textLength="260.52" lengthAdjust="spacingAndGlyphs">2 theta</text>
<text transform="translate(78.50,1267.93) rotate(-90)" x="0" y="0" font-size="87" textLength="540.55" lengthAdjust="spacingAndGlyphs">Intensity [a.u.]</text>
<text transform="translate(247.50,215.25) rotate(-90)" x="0" y="0" font-size="66" textLength="144.71" lengthAdjust="spacingAndGlyphs">(211)</text>
<text transform="translate(302.50,361.93) rotate(-90)" x="0" y="0" font-size="66" textLength="143.86" lengthAdjust="spacingAndGlyphs">(220)</text>
<text transform="translate(345.80,516.14) rotate(-90)" x="0" y="0" font-size="66" textLength="144.49" lengthAdjust="spacingAndGlyphs">(420)</text>
<text transform="translate(421.00,535.41) rotate(-90)" x="0" y="0" font-size="66" textLength="143.44" lengthAdjust="spacingAndGlyphs">(332)</text>
<text x="1078.51" y="601.00" font-size="75.5" textLength="358.21" lengthAdjust="spacingAndGlyphs">AlKIT-6_SO</text>
<text x="1436.89" y="620.40" font-size="50.5" textLength="25.46" lengthAdjust="spacingAndGlyphs">3</text>
<text x="1464.65" y="601.00" font-size="75.5" textLength="47.56" lengthAdjust="spacingAndGlyphs">H</text>
<text x="1275.80" y="819.20" font-size="75.5" textLength="231.58" lengthAdjust="spacingAndGlyphs">AlKIT-6</text>
<text x="1081.58" y="1058.90" font-size="75.5" textLength="363.96" lengthAdjust="spacingAndGlyphs">KIT-6_F_SO</text>
<text x="1446.91" y="1078.00" font-size="50.5" textLength="25.23" lengthAdjust="spacingAndGlyphs">3</text>
<text x="1474.66" y="1058.90" font-size="75.5" textLength="47.44" lengthAdjust="spacingAndGlyphs">H</text>
<text x="1270.24" y="1301.10" font-size="75.5" textLength="238.27" lengthAdjust="spacingAndGlyphs">KIT-6_F</text>
<text x="1148.27" y="1508.30" font-size="75.5" textLength="290.41" lengthAdjust="spacingAndGlyphs">KIT-6_SO</text>
<text x="1439.89" y="1527.90" font-size="50.5" textLength="25.46" lengthAdjust="spacingAndGlyphs">3</text>
<text x="1467.64" y="1508.30" font-size="75.5" textLength="47.68" lengthAdjust="spacingAndGlyphs">H</text>
<text x="1321.33" y="1754.50" font-size="75.5" textLength="163.02" lengthAdjust="spacingAndGlyphs">KIT-6</text>
</svg>
</body></html>
